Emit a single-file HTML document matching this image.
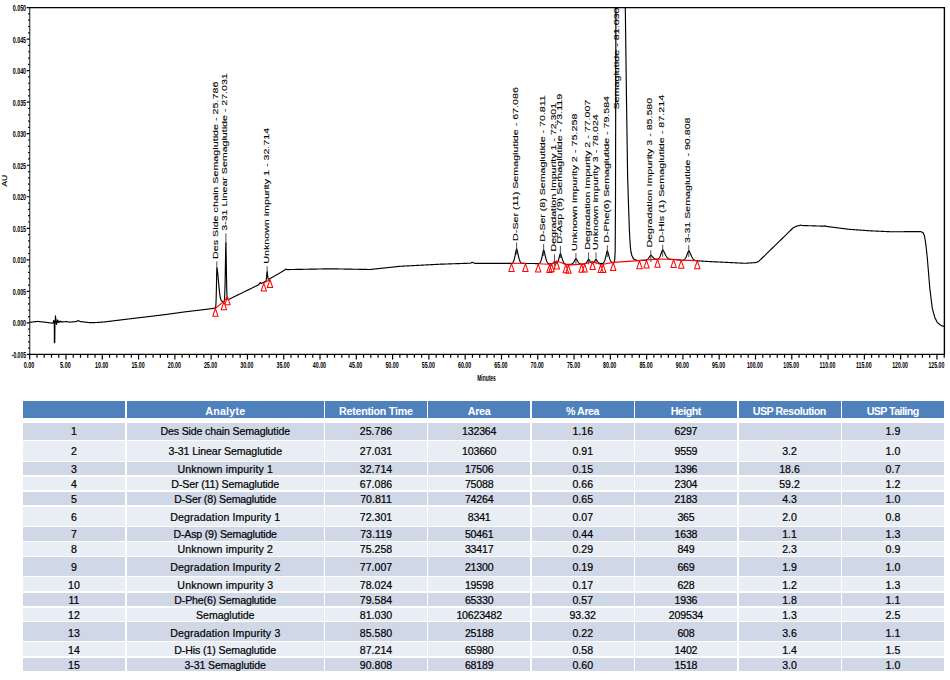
<!DOCTYPE html>
<html lang="en"><head><meta charset="utf-8"><title>Semaglutide impurity chromatogram</title>
<style>
html,body{margin:0;padding:0;background:#fff;}
body{width:950px;height:680px;position:relative;overflow:hidden;font-family:"Liberation Sans",Arial,sans-serif;}
svg.chrom{position:absolute;left:0;top:0;}
.tbl .c{position:absolute;text-align:center;font-size:10.6px;color:#000;white-space:nowrap;overflow:hidden;-webkit-text-stroke:0.2px #000}
.tbl .h{background:#4f81bd;color:#fff;font-weight:bold;font-size:10.7px;-webkit-text-stroke:0}
.tbl .a{background:#d0d8e8}
.tbl .b{background:#e9edf4}
</style></head><body>
<svg class="chrom" width="950" height="392" viewBox="0 0 950 392">
<defs><clipPath id="pc"><rect x="29" y="7" width="916" height="348"/></clipPath></defs>
<g stroke="#000" fill="none">
<path d="M29.75 354.4 V7.6" stroke-width="1.05" stroke="#222"/>
<path d="M29.2 7.6 H944.4 V354.4" stroke-width="1.4"/>
<path d="M29.4 354.4 H945.1" stroke-width="1.4"/>
<path d="M26.7 354.40H29.7M28.1 348.09H29.7M28.1 341.79H29.7M28.1 335.48H29.7M28.1 329.18H29.7M26.7 322.87H29.7M28.1 316.57H29.7M28.1 310.26H29.7M28.1 303.96H29.7M28.1 297.65H29.7M26.7 291.35H29.7M28.1 285.04H29.7M28.1 278.73H29.7M28.1 272.43H29.7M28.1 266.12H29.7M26.7 259.82H29.7M28.1 253.51H29.7M28.1 247.21H29.7M28.1 240.90H29.7M28.1 234.60H29.7M26.7 228.29H29.7M28.1 221.99H29.7M28.1 215.68H29.7M28.1 209.37H29.7M28.1 203.07H29.7M26.7 196.76H29.7M28.1 190.46H29.7M28.1 184.15H29.7M28.1 177.85H29.7M28.1 171.54H29.7M26.7 165.24H29.7M28.1 158.93H29.7M28.1 152.63H29.7M28.1 146.32H29.7M28.1 140.01H29.7M26.7 133.71H29.7M28.1 127.40H29.7M28.1 121.10H29.7M28.1 114.79H29.7M28.1 108.49H29.7M26.7 102.18H29.7M28.1 95.88H29.7M28.1 89.57H29.7M28.1 83.27H29.7M28.1 76.96H29.7M26.7 70.65H29.7M28.1 64.35H29.7M28.1 58.04H29.7M28.1 51.74H29.7M28.1 45.43H29.7M26.7 39.13H29.7M28.1 32.82H29.7M28.1 26.52H29.7M28.1 20.21H29.7M28.1 13.91H29.7M26.7 7.60H29.7" stroke-width="1.2"/>
<path d="M29.70 354.4V359.4M36.96 354.4V357.7M44.22 354.4V357.7M51.47 354.4V357.7M58.73 354.4V357.7M65.99 354.4V359.4M73.25 354.4V357.7M80.51 354.4V357.7M87.76 354.4V357.7M95.02 354.4V357.7M102.28 354.4V359.4M109.54 354.4V357.7M116.80 354.4V357.7M124.05 354.4V357.7M131.31 354.4V357.7M138.57 354.4V359.4M145.83 354.4V357.7M153.09 354.4V357.7M160.34 354.4V357.7M167.60 354.4V357.7M174.86 354.4V359.4M182.12 354.4V357.7M189.38 354.4V357.7M196.63 354.4V357.7M203.89 354.4V357.7M211.15 354.4V359.4M218.41 354.4V357.7M225.67 354.4V357.7M232.92 354.4V357.7M240.18 354.4V357.7M247.44 354.4V359.4M254.70 354.4V357.7M261.96 354.4V357.7M269.21 354.4V357.7M276.47 354.4V357.7M283.73 354.4V359.4M290.99 354.4V357.7M298.25 354.4V357.7M305.50 354.4V357.7M312.76 354.4V357.7M320.02 354.4V359.4M327.28 354.4V357.7M334.54 354.4V357.7M341.79 354.4V357.7M349.05 354.4V357.7M356.31 354.4V359.4M363.57 354.4V357.7M370.83 354.4V357.7M378.08 354.4V357.7M385.34 354.4V357.7M392.60 354.4V359.4M399.86 354.4V357.7M407.12 354.4V357.7M414.37 354.4V357.7M421.63 354.4V357.7M428.89 354.4V359.4M436.15 354.4V357.7M443.41 354.4V357.7M450.66 354.4V357.7M457.92 354.4V357.7M465.18 354.4V359.4M472.44 354.4V357.7M479.70 354.4V357.7M486.95 354.4V357.7M494.21 354.4V357.7M501.47 354.4V359.4M508.73 354.4V357.7M515.99 354.4V357.7M523.24 354.4V357.7M530.50 354.4V357.7M537.76 354.4V359.4M545.02 354.4V357.7M552.28 354.4V357.7M559.53 354.4V357.7M566.79 354.4V357.7M574.05 354.4V359.4M581.31 354.4V357.7M588.57 354.4V357.7M595.82 354.4V357.7M603.08 354.4V357.7M610.34 354.4V359.4M617.60 354.4V357.7M624.86 354.4V357.7M632.11 354.4V357.7M639.37 354.4V357.7M646.63 354.4V359.4M653.89 354.4V357.7M661.15 354.4V357.7M668.40 354.4V357.7M675.66 354.4V357.7M682.92 354.4V359.4M690.18 354.4V357.7M697.44 354.4V357.7M704.69 354.4V357.7M711.95 354.4V357.7M719.21 354.4V359.4M726.47 354.4V357.7M733.73 354.4V357.7M740.98 354.4V357.7M748.24 354.4V357.7M755.50 354.4V359.4M762.76 354.4V357.7M770.02 354.4V357.7M777.27 354.4V357.7M784.53 354.4V357.7M791.79 354.4V359.4M799.05 354.4V357.7M806.31 354.4V357.7M813.56 354.4V357.7M820.82 354.4V357.7M828.08 354.4V359.4M835.34 354.4V357.7M842.60 354.4V357.7M849.85 354.4V357.7M857.11 354.4V357.7M864.37 354.4V359.4M871.63 354.4V357.7M878.89 354.4V357.7M886.14 354.4V357.7M893.40 354.4V357.7M900.66 354.4V359.4M907.92 354.4V357.7M915.18 354.4V357.7M922.43 354.4V357.7M929.69 354.4V357.7M936.95 354.4V359.4M944.21 354.4V357.7" stroke-width="1.2"/>
</g>
<g font-family="Liberation Sans, Arial, sans-serif" font-size="9.9" font-weight="bold" fill="#000">
<text x="11.7" y="357.8" textLength="14.4" lengthAdjust="spacingAndGlyphs">-0.005</text>
<text x="12.7" y="326.3" textLength="13.4" lengthAdjust="spacingAndGlyphs">0.000</text>
<text x="12.7" y="294.7" textLength="13.4" lengthAdjust="spacingAndGlyphs">0.005</text>
<text x="12.7" y="263.2" textLength="13.4" lengthAdjust="spacingAndGlyphs">0.010</text>
<text x="12.7" y="231.7" textLength="13.4" lengthAdjust="spacingAndGlyphs">0.015</text>
<text x="12.7" y="200.2" textLength="13.4" lengthAdjust="spacingAndGlyphs">0.020</text>
<text x="12.7" y="168.6" textLength="13.4" lengthAdjust="spacingAndGlyphs">0.025</text>
<text x="12.7" y="137.1" textLength="13.4" lengthAdjust="spacingAndGlyphs">0.030</text>
<text x="12.7" y="105.6" textLength="13.4" lengthAdjust="spacingAndGlyphs">0.035</text>
<text x="12.7" y="74.1" textLength="13.4" lengthAdjust="spacingAndGlyphs">0.040</text>
<text x="12.7" y="42.5" textLength="13.4" lengthAdjust="spacingAndGlyphs">0.045</text>
<text x="12.7" y="11.0" textLength="13.4" lengthAdjust="spacingAndGlyphs">0.050</text>
<text x="23.8" y="367.8" textLength="10.6" lengthAdjust="spacingAndGlyphs">0.00</text>
<text x="60.1" y="367.8" textLength="10.6" lengthAdjust="spacingAndGlyphs">5.00</text>
<text x="95.1" y="367.8" textLength="13.2" lengthAdjust="spacingAndGlyphs">10.00</text>
<text x="131.4" y="367.8" textLength="13.2" lengthAdjust="spacingAndGlyphs">15.00</text>
<text x="167.7" y="367.8" textLength="13.2" lengthAdjust="spacingAndGlyphs">20.00</text>
<text x="203.9" y="367.8" textLength="13.2" lengthAdjust="spacingAndGlyphs">25.00</text>
<text x="240.2" y="367.8" textLength="13.2" lengthAdjust="spacingAndGlyphs">30.00</text>
<text x="276.5" y="367.8" textLength="13.2" lengthAdjust="spacingAndGlyphs">35.00</text>
<text x="312.8" y="367.8" textLength="13.2" lengthAdjust="spacingAndGlyphs">40.00</text>
<text x="349.1" y="367.8" textLength="13.2" lengthAdjust="spacingAndGlyphs">45.00</text>
<text x="385.4" y="367.8" textLength="13.2" lengthAdjust="spacingAndGlyphs">50.00</text>
<text x="421.7" y="367.8" textLength="13.2" lengthAdjust="spacingAndGlyphs">55.00</text>
<text x="458.0" y="367.8" textLength="13.2" lengthAdjust="spacingAndGlyphs">60.00</text>
<text x="494.3" y="367.8" textLength="13.2" lengthAdjust="spacingAndGlyphs">65.00</text>
<text x="530.6" y="367.8" textLength="13.2" lengthAdjust="spacingAndGlyphs">70.00</text>
<text x="566.9" y="367.8" textLength="13.2" lengthAdjust="spacingAndGlyphs">75.00</text>
<text x="603.1" y="367.8" textLength="13.2" lengthAdjust="spacingAndGlyphs">80.00</text>
<text x="639.4" y="367.8" textLength="13.2" lengthAdjust="spacingAndGlyphs">85.00</text>
<text x="675.7" y="367.8" textLength="13.2" lengthAdjust="spacingAndGlyphs">90.00</text>
<text x="712.0" y="367.8" textLength="13.2" lengthAdjust="spacingAndGlyphs">95.00</text>
<text x="747.0" y="367.8" textLength="15.8" lengthAdjust="spacingAndGlyphs">100.00</text>
<text x="783.3" y="367.8" textLength="15.8" lengthAdjust="spacingAndGlyphs">105.00</text>
<text x="819.6" y="367.8" textLength="15.8" lengthAdjust="spacingAndGlyphs">110.00</text>
<text x="855.9" y="367.8" textLength="15.8" lengthAdjust="spacingAndGlyphs">115.00</text>
<text x="892.2" y="367.8" textLength="15.8" lengthAdjust="spacingAndGlyphs">120.00</text>
<text x="928.5" y="367.8" textLength="15.8" lengthAdjust="spacingAndGlyphs">125.00</text>
<text x="477.2" y="380.8" font-size="8.6" textLength="18.6" lengthAdjust="spacingAndGlyphs">Minutes</text>
<text transform="translate(7.3 186.8) rotate(-90)" font-size="6.5" font-weight="normal" stroke="#000" stroke-width="0.12" textLength="12.1" lengthAdjust="spacingAndGlyphs">AU</text>
</g>
<g clip-path="url(#pc)" fill="none" stroke-linejoin="round">
<polyline points="29.70,322.30 29.95,322.27 30.20,322.24 30.45,322.21 30.70,322.19 30.95,322.16 31.20,322.13 31.45,322.10 31.70,322.07 31.95,322.04 32.20,322.02 32.45,321.99 32.70,321.96 32.95,321.93 33.20,321.90 33.45,321.87 33.70,321.84 33.95,321.82 34.20,321.79 34.45,321.76 34.70,321.73 34.95,321.70 35.20,321.67 35.45,321.64 35.70,321.62 35.95,321.59 36.20,321.56 36.45,321.53 36.70,321.50 36.95,321.47 37.20,321.45 37.45,321.42 37.70,321.41 37.95,321.44 38.20,321.46 38.45,321.49 38.70,321.52 38.95,321.55 39.20,321.57 39.45,321.60 39.70,321.63 39.95,321.65 40.20,321.68 40.45,321.71 40.70,321.74 40.95,321.76 41.20,321.79 41.45,321.82 41.70,321.84 41.95,321.87 42.20,321.90 42.45,321.92 42.70,321.95 42.95,321.98 43.20,322.01 43.45,322.03 43.70,322.06 43.95,322.09 44.20,322.11 44.45,322.14 44.70,322.17 44.95,322.19 45.20,322.23 45.45,322.26 45.70,322.29 45.95,322.32 46.20,322.36 46.45,322.39 46.70,322.42 46.95,322.46 47.20,322.49 47.45,322.52 47.70,322.56 47.95,322.59 48.20,322.62 48.45,322.65 48.70,322.69 48.95,322.72 49.20,322.75 49.45,322.79 49.70,322.82 49.95,322.85 50.20,322.88 50.45,322.92 50.70,322.95 50.95,322.98 51.20,323.02 51.45,323.05 51.70,323.08 51.95,323.11 52.20,323.15 52.45,323.18 52.70,323.18 52.95,323.11 53.20,322.90 53.60,320.60 54.00,322.60 54.30,321.00 54.40,342.60 54.75,342.60 54.90,326.00 55.50,315.90 56.00,321.00 56.60,324.50 57.50,319.90 58.20,322.40 58.90,321.00 59.60,322.20 60.40,321.20 61.20,322.00 61.70,321.80 61.95,321.84 62.20,321.88 62.45,321.89 62.70,321.87 62.95,321.85 63.20,321.83 63.45,321.81 63.70,321.79 63.95,321.77 64.20,321.75 64.45,321.73 64.70,321.71 64.95,321.69 65.20,321.66 65.45,321.64 65.70,321.62 65.95,321.60 66.20,321.62 66.45,321.66 66.70,321.69 66.95,321.72 67.20,321.75 67.45,321.78 67.70,321.81 67.95,321.84 68.20,321.88 68.45,321.91 68.70,321.94 68.95,321.97 69.20,322.00 69.45,322.03 69.70,322.06 69.95,322.09 70.20,322.09 70.45,322.07 70.70,322.05 70.95,322.03 71.20,322.01 71.45,321.99 71.70,321.97 71.95,321.95 72.20,321.94 72.45,321.92 72.70,321.90 72.95,321.88 73.20,321.86 73.45,321.84 73.70,321.82 73.95,321.80 74.20,321.78 74.45,321.75 74.70,321.72 74.95,321.69 75.20,321.66 75.45,321.63 75.70,321.60 75.95,321.57 76.20,321.54 76.45,321.51 76.70,321.39 76.95,321.26 77.20,321.13 77.45,321.00 77.70,320.86 77.95,320.73 78.20,320.60 78.45,320.73 78.70,320.85 78.95,320.98 79.20,321.10 79.45,321.23 79.70,321.35 79.95,321.48 80.20,321.52 80.45,321.56 80.70,321.59 80.95,321.62 81.20,321.65 81.45,321.68 81.70,321.71 81.95,321.74 82.20,321.77 82.45,321.81 82.70,321.84 82.95,321.87 83.20,321.90 83.45,321.93 83.70,321.96 83.95,321.99 84.20,322.02 84.45,322.05 84.70,322.08 84.95,322.10 85.20,322.13 85.45,322.16 85.70,322.18 85.95,322.21 86.20,322.24 86.45,322.26 86.70,322.29 86.95,322.32 87.20,322.34 87.45,322.37 87.70,322.40 87.95,322.43 88.20,322.45 88.45,322.48 88.70,322.51 88.95,322.53 89.20,322.56 89.45,322.59 89.70,322.61 89.95,322.64 90.20,322.67 90.45,322.69 90.70,322.69 90.95,322.69 91.20,322.68 91.45,322.67 91.70,322.66 91.95,322.66 92.20,322.65 92.45,322.64 92.70,322.63 92.95,322.62 93.20,322.62 93.45,322.61 93.70,322.60 93.95,322.59 94.20,322.59 94.45,322.58 94.70,322.57 94.95,322.56 95.20,322.56 95.45,322.55 95.70,322.54 95.95,322.53 96.20,322.52 96.45,322.52 96.70,322.51 96.95,322.50 97.20,322.48 97.45,322.46 97.70,322.45 97.95,322.43 98.20,322.41 98.45,322.39 98.70,322.37 98.95,322.35 99.20,322.33 99.45,322.31 99.70,322.29 99.95,322.27 100.20,322.25 100.45,322.23 100.70,322.21 100.95,322.19 101.20,322.17 101.45,322.15 101.70,322.13 101.95,322.11 102.20,322.09 102.45,322.08 102.70,322.06 102.95,322.04 103.20,322.02 103.45,322.00 103.70,321.98 103.95,321.96 104.20,321.94 104.45,321.92 104.70,321.90 104.95,321.87 105.20,321.84 105.45,321.81 105.70,321.78 105.95,321.75 106.20,321.72 106.45,321.69 106.70,321.65 106.95,321.62 107.20,321.59 107.45,321.56 107.70,321.53 107.95,321.50 108.20,321.47 108.45,321.44 108.70,321.41 108.95,321.38 109.20,321.35 109.45,321.32 109.70,321.29 109.95,321.26 110.20,321.23 110.45,321.19 110.70,321.16 110.95,321.13 111.20,321.10 111.45,321.07 111.70,321.04 111.95,321.01 112.20,320.98 112.45,320.95 112.70,320.92 112.95,320.89 113.20,320.86 113.45,320.83 113.70,320.80 113.95,320.77 114.20,320.73 114.45,320.70 114.70,320.67 114.95,320.64 115.20,320.61 115.45,320.58 115.70,320.55 115.95,320.52 116.20,320.49 116.45,320.46 116.70,320.43 116.95,320.40 117.20,320.37 117.45,320.34 117.70,320.31 117.95,320.27 118.20,320.24 118.45,320.21 118.70,320.18 118.95,320.15 119.20,320.12 119.45,320.09 119.70,320.06 119.95,320.03 120.20,320.00 120.45,319.97 120.70,319.94 120.95,319.91 121.20,319.88 121.45,319.85 121.70,319.81 121.95,319.78 122.20,319.75 122.45,319.72 122.70,319.69 122.95,319.66 123.20,319.63 123.45,319.60 123.70,319.57 123.95,319.54 124.20,319.51 124.45,319.48 124.70,319.45 124.95,319.42 125.20,319.39 125.45,319.35 125.70,319.32 125.95,319.29 126.20,319.26 126.45,319.23 126.70,319.20 126.95,319.17 127.20,319.14 127.45,319.11 127.70,319.08 127.95,319.05 128.20,319.02 128.45,318.99 128.70,318.96 128.95,318.93 129.20,318.89 129.45,318.86 129.70,318.83 129.95,318.80 130.20,318.77 130.45,318.74 130.70,318.71 130.95,318.68 131.20,318.65 131.45,318.62 131.70,318.59 131.95,318.56 132.20,318.53 132.45,318.50 132.70,318.47 132.95,318.44 133.20,318.41 133.45,318.38 133.70,318.35 133.95,318.32 134.20,318.29 134.45,318.27 134.70,318.24 134.95,318.21 135.20,318.18 135.45,318.15 135.70,318.12 135.95,318.09 136.20,318.06 136.45,318.03 136.70,318.00 136.95,317.97 137.20,317.94 137.45,317.91 137.70,317.88 137.95,317.86 138.20,317.83 138.45,317.80 138.70,317.77 138.95,317.74 139.20,317.71 139.45,317.68 139.70,317.65 139.95,317.62 140.20,317.59 140.45,317.56 140.70,317.53 140.95,317.50 141.20,317.47 141.45,317.44 141.70,317.42 141.95,317.39 142.20,317.36 142.45,317.33 142.70,317.30 142.95,317.27 143.20,317.24 143.45,317.21 143.70,317.18 143.95,317.15 144.20,317.12 144.45,317.09 144.70,317.06 144.95,317.03 145.20,317.00 145.45,316.98 145.70,316.95 145.95,316.92 146.20,316.89 146.45,316.86 146.70,316.83 146.95,316.80 147.20,316.77 147.45,316.74 147.70,316.71 147.95,316.68 148.20,316.65 148.45,316.62 148.70,316.59 148.95,316.56 149.20,316.54 149.45,316.51 149.70,316.48 149.95,316.44 150.20,316.41 150.45,316.38 150.70,316.35 150.95,316.32 151.20,316.29 151.45,316.26 151.70,316.23 151.95,316.20 152.20,316.17 152.45,316.14 152.70,316.11 152.95,316.08 153.20,316.05 153.45,316.01 153.70,315.98 153.95,315.95 154.20,315.92 154.45,315.89 154.70,315.86 154.95,315.83 155.20,315.80 155.45,315.77 155.70,315.74 155.95,315.71 156.20,315.68 156.45,315.65 156.70,315.62 156.95,315.58 157.20,315.55 157.45,315.52 157.70,315.49 157.95,315.46 158.20,315.43 158.45,315.40 158.70,315.37 158.95,315.34 159.20,315.31 159.45,315.28 159.70,315.25 159.95,315.22 160.20,315.18 160.45,315.15 160.70,315.12 160.95,315.09 161.20,315.06 161.45,315.03 161.70,315.00 161.95,314.97 162.20,314.94 162.45,314.91 162.70,314.88 162.95,314.85 163.20,314.82 163.45,314.79 163.70,314.75 163.95,314.72 164.20,314.69 164.45,314.66 164.70,314.63 164.95,314.60 165.20,314.57 165.45,314.54 165.70,314.51 165.95,314.48 166.20,314.45 166.45,314.42 166.70,314.39 166.95,314.36 167.20,314.32 167.45,314.29 167.70,314.26 167.95,314.22 168.20,314.19 168.45,314.15 168.70,314.12 168.95,314.08 169.20,314.05 169.45,314.01 169.70,313.98 169.95,313.94 170.20,313.91 170.45,313.87 170.70,313.84 170.95,313.80 171.20,313.77 171.45,313.73 171.70,313.70 171.95,313.66 172.20,313.63 172.45,313.59 172.70,313.56 172.95,313.52 173.20,313.49 173.45,313.46 173.70,313.42 173.95,313.39 174.20,313.35 174.45,313.32 174.70,313.28 174.95,313.25 175.20,313.21 175.45,313.18 175.70,313.14 175.95,313.11 176.20,313.07 176.45,313.04 176.70,313.00 176.95,312.97 177.20,312.93 177.45,312.90 177.70,312.86 177.95,312.83 178.20,312.79 178.45,312.76 178.70,312.72 178.95,312.69 179.20,312.65 179.45,312.62 179.70,312.58 179.95,312.55 180.20,312.51 180.45,312.48 180.70,312.44 180.95,312.41 181.20,312.37 181.45,312.34 181.70,312.30 181.95,312.27 182.20,312.23 182.45,312.20 182.70,312.16 182.95,312.13 183.20,312.09 183.45,312.06 183.70,312.02 183.95,311.99 184.20,311.95 184.45,311.92 184.70,311.88 184.95,311.85 185.20,311.81 185.45,311.78 185.70,311.75 185.95,311.72 186.20,311.69 186.45,311.67 186.70,311.64 186.95,311.61 187.20,311.58 187.45,311.55 187.70,311.52 187.95,311.49 188.20,311.46 188.45,311.43 188.70,311.40 188.95,311.37 189.20,311.34 189.45,311.31 189.70,311.28 189.95,311.25 190.20,311.23 190.45,311.20 190.70,311.17 190.95,311.14 191.20,311.11 191.45,311.08 191.70,311.05 191.95,311.02 192.20,310.99 192.45,310.96 192.70,310.93 192.95,310.90 193.20,310.87 193.45,310.84 193.70,310.81 193.95,310.79 194.20,310.76 194.45,310.73 194.70,310.70 194.95,310.67 195.20,310.64 195.45,310.61 195.70,310.58 195.95,310.55 196.20,310.52 196.45,310.49 196.70,310.46 196.95,310.43 197.20,310.40 197.45,310.37 197.70,310.35 197.95,310.32 198.20,310.29 198.45,310.26 198.70,310.23 198.95,310.20 199.20,310.17 199.45,310.14 199.70,310.11 199.95,310.08 200.20,310.05 200.45,310.02 200.70,309.99 200.95,309.96 201.20,309.93 201.45,309.91 201.70,309.88 201.95,309.85 202.20,309.82 202.45,309.79 202.70,309.76 202.95,309.73 203.20,309.70 203.45,309.67 203.70,309.64 203.95,309.61 204.20,309.57 204.45,309.54 204.70,309.51 204.95,309.48 205.20,309.45 205.45,309.42 205.70,309.39 205.95,309.36 206.20,309.32 206.45,309.29 206.70,309.26 206.95,309.23 207.20,309.20 207.45,309.17 207.70,309.14 207.95,309.11 208.20,309.07 208.45,309.04 208.70,309.01 208.95,308.98 209.20,308.95 209.45,308.92 209.70,308.89 209.95,308.86 210.20,308.82 210.45,308.79 210.70,308.76 210.95,308.73 211.20,308.70 211.45,308.67 211.70,308.64 211.95,308.61 212.20,308.56 212.45,308.52 212.70,308.47 212.95,308.43 213.20,308.38 213.45,308.34 213.70,308.29 213.95,308.25 214.20,308.20 214.45,308.15 214.70,308.11 214.95,308.06 215.20,308.02 215.45,307.89 215.70,307.12 215.95,303.57 216.20,297.01 216.45,285.78 216.70,272.86 216.95,267.79 217.20,269.15 217.45,270.95 217.70,273.12 217.95,275.60 218.20,278.29 218.45,281.09 218.70,283.89 218.95,286.60 219.20,289.15 219.45,291.47 219.70,293.52 219.95,295.30 220.20,296.79 220.45,298.01 220.70,298.98 220.95,299.73 221.20,300.30 221.45,300.71 221.70,301.00 221.95,301.19 222.20,301.31 222.45,301.43 222.70,301.59 222.95,301.69 223.20,301.74 223.45,301.74 223.70,301.72 223.95,301.67 224.20,301.50 224.45,300.09 224.70,295.53 224.95,288.75 225.20,277.71 225.45,263.17 225.70,248.45 225.95,242.71 226.20,257.50 226.45,274.37 226.70,287.36 226.95,294.83 227.20,299.18 227.45,300.04 227.70,299.91 227.95,299.78 228.20,299.65 228.45,299.53 228.70,299.40 228.95,299.28 229.20,299.16 229.45,299.04 229.70,298.91 229.95,298.79 230.20,298.67 230.45,298.55 230.70,298.43 230.95,298.30 231.20,298.18 231.45,298.06 231.70,297.94 231.95,297.81 232.20,297.69 232.45,297.57 232.70,297.45 232.95,297.33 233.20,297.20 233.45,297.08 233.70,296.96 233.95,296.84 234.20,296.72 234.45,296.59 234.70,296.47 234.95,296.35 235.20,296.23 235.45,296.11 235.70,295.98 235.95,295.86 236.20,295.74 236.45,295.62 236.70,295.49 236.95,295.37 237.20,295.25 237.45,295.13 237.70,295.01 237.95,294.88 238.20,294.76 238.45,294.64 238.70,294.52 238.95,294.40 239.20,294.27 239.45,294.15 239.70,294.03 239.95,293.91 240.20,293.79 240.45,293.66 240.70,293.54 240.95,293.42 241.20,293.30 241.45,293.17 241.70,293.05 241.95,292.93 242.20,292.81 242.45,292.69 242.70,292.56 242.95,292.44 243.20,292.32 243.45,292.20 243.70,292.08 243.95,291.95 244.20,291.83 244.45,291.71 244.70,291.59 244.95,291.47 245.20,291.34 245.45,291.22 245.70,291.10 245.95,290.98 246.20,290.85 246.45,290.73 246.70,290.61 246.95,290.49 247.20,290.37 247.45,290.24 247.70,290.12 247.95,290.00 248.20,289.88 248.45,289.76 248.70,289.63 248.95,289.51 249.20,289.39 249.45,289.27 249.70,289.14 249.95,289.02 250.20,288.90 250.45,288.78 250.70,288.66 250.95,288.53 251.20,288.41 251.45,288.29 251.70,288.17 251.95,288.05 252.20,287.92 252.45,287.80 252.70,287.68 252.95,287.56 253.20,287.44 253.45,287.31 253.70,287.19 253.95,287.07 254.20,286.95 254.45,286.82 254.70,286.70 254.95,286.58 255.20,286.46 255.45,286.34 255.70,286.21 255.95,286.09 256.20,285.97 256.45,285.85 256.70,285.73 256.95,285.60 257.20,285.48 257.45,285.36 257.70,285.24 257.95,285.12 258.20,284.99 258.45,284.87 258.70,284.75 258.95,284.46 259.20,284.07 259.45,283.68 259.70,283.29 259.95,282.89 260.20,282.50 260.45,282.75 260.70,283.00 260.95,283.25 261.20,283.50 261.45,283.51 261.70,283.37 261.95,283.23 262.20,283.08 262.45,282.94 262.70,282.79 262.95,282.65 263.20,282.51 263.45,282.36 263.70,282.22 263.95,282.08 264.20,281.93 264.45,281.79 264.70,281.64 264.95,281.50 265.20,281.36 265.45,281.21 265.70,281.07 265.95,280.72 266.20,279.78 266.45,278.23 266.70,275.77 266.95,272.96 267.20,271.69 267.45,273.63 267.70,275.90 267.95,277.68 268.20,278.70 268.45,279.27 268.70,279.33 268.95,279.20 269.20,279.06 269.45,278.91 269.70,278.77 269.95,278.63 270.20,278.48 270.45,278.34 270.70,278.19 270.95,278.05 271.20,277.91 271.45,277.76 271.70,277.62 271.95,277.48 272.20,277.33 272.45,277.19 272.70,277.04 272.95,276.90 273.20,276.76 273.45,276.61 273.70,276.47 273.95,276.32 274.20,276.18 274.45,276.04 274.70,275.89 274.95,275.75 275.20,275.61 275.45,275.46 275.70,275.32 275.95,275.17 276.20,275.03 276.45,274.89 276.70,274.74 276.95,274.60 277.20,274.46 277.45,274.31 277.70,274.17 277.95,274.02 278.20,273.88 278.45,273.74 278.70,273.59 278.95,273.45 279.20,273.31 279.45,273.16 279.70,273.02 279.95,272.87 280.20,272.73 280.45,272.59 280.70,272.44 280.95,272.30 281.20,272.16 281.45,272.01 281.70,271.87 281.95,271.72 282.20,271.58 282.45,271.44 282.70,271.29 282.95,271.15 283.20,271.01 283.45,270.86 283.70,270.72 283.95,270.57 284.20,270.43 284.45,270.29 284.70,270.07 284.95,269.73 285.20,269.40 285.45,269.07 285.70,269.08 285.95,269.18 286.20,269.28 286.45,269.38 286.70,269.48 286.95,269.58 287.20,269.60 287.45,269.59 287.70,269.59 287.95,269.58 288.20,269.58 288.45,269.57 288.70,269.57 288.95,269.56 289.20,269.56 289.45,269.55 289.70,269.55 289.95,269.55 290.20,269.54 290.45,269.54 290.70,269.53 290.95,269.53 291.20,269.52 291.45,269.52 291.70,269.51 291.95,269.51 292.20,269.50 292.45,269.50 292.70,269.49 292.95,269.49 293.20,269.48 293.45,269.48 293.70,269.48 293.95,269.47 294.20,269.47 294.45,269.46 294.70,269.46 294.95,269.45 295.20,269.45 295.45,269.44 295.70,269.44 295.95,269.43 296.20,269.43 296.45,269.42 296.70,269.42 296.95,269.41 297.20,269.41 297.45,269.41 297.70,269.40 297.95,269.40 298.20,269.39 298.45,269.39 298.70,269.38 298.95,269.38 299.20,269.37 299.45,269.37 299.70,269.36 299.95,269.36 300.20,269.35 300.45,269.35 300.70,269.35 300.95,269.34 301.20,269.34 301.45,269.33 301.70,269.33 301.95,269.32 302.20,269.32 302.45,269.31 302.70,269.31 302.95,269.30 303.20,269.30 303.45,269.29 303.70,269.29 303.95,269.28 304.20,269.28 304.45,269.28 304.70,269.27 304.95,269.27 305.20,269.26 305.45,269.26 305.70,269.25 305.95,269.25 306.20,269.24 306.45,269.24 306.70,269.23 306.95,269.23 307.20,269.22 307.45,269.22 307.70,269.21 307.95,269.21 308.20,269.21 308.45,269.20 308.70,269.20 308.95,269.19 309.20,269.19 309.45,269.18 309.70,269.18 309.95,269.17 310.20,269.17 310.45,269.16 310.70,269.16 310.95,269.15 311.20,269.15 311.45,269.15 311.70,269.14 311.95,269.14 312.20,269.13 312.45,269.13 312.70,269.12 312.95,269.12 313.20,269.11 313.45,269.11 313.70,269.10 313.95,269.10 314.20,269.09 314.45,269.09 314.70,269.08 314.95,269.08 315.20,269.08 315.45,269.07 315.70,269.07 315.95,269.06 316.20,269.06 316.45,269.05 316.70,269.05 316.95,269.04 317.20,269.04 317.45,269.03 317.70,269.03 317.95,269.02 318.20,269.02 318.45,269.01 318.70,269.01 318.95,269.01 319.20,269.00 319.45,269.00 319.70,268.99 319.95,268.99 320.20,268.98 320.45,268.98 320.70,268.97 320.95,268.97 321.20,268.96 321.45,268.96 321.70,268.95 321.95,268.95 322.20,268.95 322.45,268.94 322.70,268.94 322.95,268.93 323.20,268.93 323.45,268.92 323.70,268.92 323.95,268.91 324.20,268.91 324.45,268.90 324.70,268.90 324.95,268.89 325.20,268.89 325.45,268.88 325.70,268.88 325.95,268.88 326.20,268.87 326.45,268.87 326.70,268.86 326.95,268.86 327.20,268.85 327.45,268.85 327.70,268.84 327.95,268.84 328.20,268.83 328.45,268.83 328.70,268.82 328.95,268.82 329.20,268.81 329.45,268.81 329.70,268.81 329.95,268.80 330.20,268.80 330.45,268.81 330.70,268.81 330.95,268.82 331.20,268.82 331.45,268.83 331.70,268.83 331.95,268.83 332.20,268.84 332.45,268.84 332.70,268.85 332.95,268.85 333.20,268.86 333.45,268.86 333.70,268.86 333.95,268.87 334.20,268.87 334.45,268.88 334.70,268.88 334.95,268.89 335.20,268.89 335.45,268.90 335.70,268.90 335.95,268.90 336.20,268.91 336.45,268.91 336.70,268.92 336.95,268.92 337.20,268.93 337.45,268.93 337.70,268.93 337.95,268.94 338.20,268.94 338.45,268.95 338.70,268.95 338.95,268.96 339.20,268.96 339.45,268.97 339.70,268.97 339.95,268.97 340.20,268.98 340.45,268.98 340.70,268.99 340.95,268.99 341.20,269.00 341.45,269.00 341.70,269.00 341.95,269.01 342.20,269.01 342.45,269.02 342.70,269.02 342.95,269.03 343.20,269.03 343.45,269.04 343.70,269.04 343.95,269.04 344.20,269.05 344.45,269.05 344.70,269.06 344.95,269.06 345.20,269.07 345.45,269.07 345.70,269.07 345.95,269.08 346.20,269.08 346.45,269.09 346.70,269.09 346.95,269.10 347.20,269.10 347.45,269.11 347.70,269.11 347.95,269.11 348.20,269.12 348.45,269.12 348.70,269.13 348.95,269.13 349.20,269.14 349.45,269.14 349.70,269.14 349.95,269.15 350.20,269.15 350.45,269.16 350.70,269.16 350.95,269.17 351.20,269.17 351.45,269.18 351.70,269.18 351.95,269.18 352.20,269.19 352.45,269.19 352.70,269.20 352.95,269.20 353.20,269.21 353.45,269.21 353.70,269.21 353.95,269.22 354.20,269.22 354.45,269.23 354.70,269.23 354.95,269.24 355.20,269.24 355.45,269.25 355.70,269.25 355.95,269.25 356.20,269.26 356.45,269.26 356.70,269.27 356.95,269.27 357.20,269.28 357.45,269.28 357.70,269.28 357.95,269.29 358.20,269.29 358.45,269.30 358.70,269.30 358.95,269.31 359.20,269.31 359.45,269.32 359.70,269.32 359.95,269.32 360.20,269.33 360.45,269.33 360.70,269.34 360.95,269.34 361.20,269.35 361.45,269.35 361.70,269.35 361.95,269.36 362.20,269.36 362.45,269.37 362.70,269.37 362.95,269.38 363.20,269.38 363.45,269.39 363.70,269.39 363.95,269.39 364.20,269.40 364.45,269.40 364.70,269.41 364.95,269.41 365.20,269.42 365.45,269.42 365.70,269.42 365.95,269.43 366.20,269.43 366.45,269.44 366.70,269.44 366.95,269.45 367.20,269.45 367.45,269.46 367.70,269.46 367.95,269.46 368.20,269.47 368.45,269.47 368.70,269.48 368.95,269.48 369.20,269.49 369.45,269.49 369.70,269.49 369.95,269.50 370.20,269.48 370.45,269.45 370.70,269.43 370.95,269.40 371.20,269.37 371.45,269.35 371.70,269.32 371.95,269.29 372.20,269.27 372.45,269.24 372.70,269.21 372.95,269.19 373.20,269.16 373.45,269.13 373.70,269.11 373.95,269.08 374.20,269.05 374.45,269.03 374.70,269.00 374.95,268.97 375.20,268.95 375.45,268.92 375.70,268.89 375.95,268.87 376.20,268.84 376.45,268.81 376.70,268.79 376.95,268.76 377.20,268.73 377.45,268.71 377.70,268.68 377.95,268.65 378.20,268.63 378.45,268.60 378.70,268.57 378.95,268.55 379.20,268.52 379.45,268.49 379.70,268.47 379.95,268.44 380.20,268.41 380.45,268.39 380.70,268.36 380.95,268.33 381.20,268.31 381.45,268.28 381.70,268.25 381.95,268.23 382.20,268.20 382.45,268.17 382.70,268.15 382.95,268.12 383.20,268.09 383.45,268.07 383.70,268.04 383.95,268.01 384.20,267.99 384.45,267.96 384.70,267.93 384.95,267.91 385.20,267.88 385.45,267.85 385.70,267.83 385.95,267.80 386.20,267.77 386.45,267.75 386.70,267.72 386.95,267.69 387.20,267.67 387.45,267.64 387.70,267.61 387.95,267.59 388.20,267.56 388.45,267.53 388.70,267.51 388.95,267.48 389.20,267.45 389.45,267.43 389.70,267.40 389.95,267.37 390.20,267.35 390.45,267.32 390.70,267.29 390.95,267.27 391.20,267.24 391.45,267.21 391.70,267.19 391.95,267.16 392.20,267.13 392.45,267.11 392.70,267.08 392.95,267.05 393.20,267.03 393.45,267.00 393.70,266.97 393.95,266.95 394.20,266.92 394.45,266.89 394.70,266.87 394.95,266.84 395.20,266.81 395.45,266.79 395.70,266.76 395.95,266.73 396.20,266.71 396.45,266.68 396.70,266.65 396.95,266.63 397.20,266.60 397.45,266.57 397.70,266.55 397.95,266.52 398.20,266.49 398.45,266.47 398.70,266.44 398.95,266.41 399.20,266.39 399.45,266.36 399.70,266.33 399.95,266.31 400.20,266.29 400.45,266.28 400.70,266.26 400.95,266.25 401.20,266.24 401.45,266.22 401.70,266.21 401.95,266.20 402.20,266.18 402.45,266.17 402.70,266.16 402.95,266.15 403.20,266.13 403.45,266.12 403.70,266.11 403.95,266.09 404.20,266.08 404.45,266.07 404.70,266.05 404.95,266.04 405.20,266.03 405.45,266.01 405.70,266.00 405.95,265.99 406.20,265.97 406.45,265.96 406.70,265.95 406.95,265.94 407.20,265.92 407.45,265.91 407.70,265.90 407.95,265.88 408.20,265.87 408.45,265.86 408.70,265.84 408.95,265.83 409.20,265.82 409.45,265.80 409.70,265.79 409.95,265.78 410.20,265.76 410.45,265.75 410.70,265.74 410.95,265.73 411.20,265.71 411.45,265.70 411.70,265.69 411.95,265.67 412.20,265.66 412.45,265.65 412.70,265.63 412.95,265.62 413.20,265.61 413.45,265.59 413.70,265.58 413.95,265.57 414.20,265.55 414.45,265.54 414.70,265.53 414.95,265.52 415.20,265.50 415.45,265.49 415.70,265.48 415.95,265.46 416.20,265.45 416.45,265.44 416.70,265.42 416.95,265.41 417.20,265.40 417.45,265.38 417.70,265.37 417.95,265.36 418.20,265.34 418.45,265.33 418.70,265.32 418.95,265.31 419.20,265.29 419.45,265.28 419.70,265.27 419.95,265.25 420.20,265.24 420.45,265.23 420.70,265.21 420.95,265.20 421.20,265.19 421.45,265.17 421.70,265.16 421.95,265.15 422.20,265.13 422.45,265.12 422.70,265.11 422.95,265.10 423.20,265.08 423.45,265.07 423.70,265.06 423.95,265.04 424.20,265.03 424.45,265.02 424.70,265.00 424.95,264.99 425.20,264.98 425.45,264.96 425.70,264.95 425.95,264.94 426.20,264.92 426.45,264.91 426.70,264.90 426.95,264.89 427.20,264.87 427.45,264.86 427.70,264.85 427.95,264.83 428.20,264.82 428.45,264.81 428.70,264.79 428.95,264.78 429.20,264.77 429.45,264.75 429.70,264.74 429.95,264.73 430.20,264.71 430.45,264.70 430.70,264.69 430.95,264.68 431.20,264.66 431.45,264.65 431.70,264.64 431.95,264.62 432.20,264.61 432.45,264.60 432.70,264.58 432.95,264.57 433.20,264.56 433.45,264.54 433.70,264.53 433.95,264.52 434.20,264.50 434.45,264.49 434.70,264.48 434.95,264.47 435.20,264.45 435.45,264.44 435.70,264.43 435.95,264.41 436.20,264.40 436.45,264.39 436.70,264.37 436.95,264.36 437.20,264.35 437.45,264.33 437.70,264.32 437.95,264.31 438.20,264.29 438.45,264.28 438.70,264.27 438.95,264.26 439.20,264.24 439.45,264.23 439.70,264.22 439.95,264.20 440.20,264.19 440.45,264.19 440.70,264.18 440.95,264.17 441.20,264.16 441.45,264.15 441.70,264.14 441.95,264.14 442.20,264.13 442.45,264.12 442.70,264.11 442.95,264.10 443.20,264.10 443.45,264.09 443.70,264.08 443.95,264.07 444.20,264.06 444.45,264.05 444.70,264.05 444.95,264.04 445.20,264.03 445.45,264.02 445.70,264.01 445.95,264.00 446.20,264.00 446.45,263.99 446.70,263.98 446.95,263.97 447.20,263.96 447.45,263.96 447.70,263.95 447.95,263.94 448.20,263.93 448.45,263.92 448.70,263.91 448.95,263.91 449.20,263.90 449.45,263.89 449.70,263.88 449.95,263.87 450.20,263.87 450.45,263.86 450.70,263.85 450.95,263.84 451.20,263.83 451.45,263.82 451.70,263.82 451.95,263.81 452.20,263.80 452.45,263.79 452.70,263.78 452.95,263.78 453.20,263.77 453.45,263.76 453.70,263.75 453.95,263.74 454.20,263.73 454.45,263.73 454.70,263.72 454.95,263.71 455.20,263.70 455.45,263.69 455.70,263.69 455.95,263.68 456.20,263.67 456.45,263.66 456.70,263.65 456.95,263.64 457.20,263.64 457.45,263.63 457.70,263.62 457.95,263.61 458.20,263.60 458.45,263.60 458.70,263.59 458.95,263.58 459.20,263.57 459.45,263.56 459.70,263.55 459.95,263.55 460.20,263.54 460.45,263.53 460.70,263.52 460.95,263.51 461.20,263.50 461.45,263.50 461.70,263.49 461.95,263.48 462.20,263.47 462.45,263.46 462.70,263.46 462.95,263.45 463.20,263.44 463.45,263.43 463.70,263.42 463.95,263.41 464.20,263.41 464.45,263.40 464.70,263.39 464.95,263.38 465.20,263.37 465.45,263.37 465.70,263.36 465.95,263.35 466.20,263.34 466.45,263.33 466.70,263.32 466.95,263.32 467.20,263.31 467.45,263.30 467.70,263.29 467.95,263.28 468.20,263.28 468.45,263.27 468.70,263.26 468.95,263.25 469.20,263.24 469.45,263.23 469.70,263.23 469.95,263.22 470.20,263.21 470.45,263.20 470.70,263.09 470.95,262.95 471.20,262.81 471.45,262.67 471.70,262.53 471.95,262.39 472.20,262.26 472.45,262.27 472.70,262.40 472.95,262.52 473.20,262.65 473.45,262.77 473.70,262.90 473.95,263.02 474.20,263.15 474.45,263.27 474.70,263.30 474.95,263.30 475.20,263.30 475.45,263.30 475.70,263.30 475.95,263.30 476.20,263.30 476.45,263.30 476.70,263.30 476.95,263.30 477.20,263.30 477.45,263.30 477.70,263.30 477.95,263.30 478.20,263.30 478.45,263.30 478.70,263.30 478.95,263.30 479.20,263.30 479.45,263.30 479.70,263.30 479.95,263.30 480.20,263.30 480.45,263.30 480.70,263.30 480.95,263.30 481.20,263.30 481.45,263.30 481.70,263.30 481.95,263.30 482.20,263.30 482.45,263.30 482.70,263.30 482.95,263.30 483.20,263.30 483.45,263.30 483.70,263.30 483.95,263.30 484.20,263.30 484.45,263.30 484.70,263.30 484.95,263.30 485.20,263.30 485.45,263.30 485.70,263.30 485.95,263.30 486.20,263.30 486.45,263.30 486.70,263.30 486.95,263.30 487.20,263.30 487.45,263.30 487.70,263.30 487.95,263.30 488.20,263.30 488.45,263.30 488.70,263.30 488.95,263.30 489.20,263.30 489.45,263.30 489.70,263.30 489.95,263.30 490.20,263.30 490.45,263.30 490.70,263.30 490.95,263.30 491.20,263.30 491.45,263.30 491.70,263.30 491.95,263.30 492.20,263.30 492.45,263.30 492.70,263.30 492.95,263.30 493.20,263.30 493.45,263.30 493.70,263.30 493.95,263.30 494.20,263.30 494.45,263.30 494.70,263.30 494.95,263.30 495.20,263.30 495.45,263.30 495.70,263.30 495.95,263.30 496.20,263.30 496.45,263.30 496.70,263.30 496.95,263.30 497.20,263.30 497.45,263.30 497.70,263.30 497.95,263.30 498.20,263.30 498.45,263.30 498.70,263.30 498.95,263.30 499.20,263.30 499.45,263.30 499.70,263.30 499.95,263.30 500.20,263.30 500.45,263.30 500.70,263.30 500.95,263.30 501.20,263.30 501.45,263.30 501.70,263.30 501.95,263.30 502.20,263.30 502.45,263.30 502.70,263.30 502.95,263.30 503.20,263.30 503.45,263.30 503.70,263.30 503.95,263.30 504.20,263.30 504.45,263.30 504.70,263.30 504.95,263.30 505.20,263.30 505.45,263.30 505.70,263.30 505.95,263.30 506.20,263.30 506.45,263.30 506.70,263.30 506.95,263.30 507.20,263.30 507.45,263.30 507.70,263.30 507.95,263.30 508.20,263.30 508.45,263.30 508.70,263.30 508.95,263.30 509.20,263.30 509.45,263.30 509.70,263.30 509.95,263.30 510.20,263.30 510.45,263.30 510.70,263.31 510.95,263.31 511.20,263.31 511.45,263.31 511.70,263.31 511.95,263.26 512.20,263.18 512.45,263.04 512.70,262.82 512.95,262.48 513.20,261.98 513.45,261.54 513.70,260.99 513.95,260.31 514.20,259.49 514.45,258.54 514.70,257.47 514.95,256.28 515.20,255.01 515.45,253.70 515.70,252.40 515.95,251.15 516.20,250.04 516.45,249.13 516.70,248.92 516.95,249.62 517.20,250.53 517.45,251.58 517.70,252.70 517.95,253.86 518.20,255.03 518.45,256.16 518.70,257.23 518.95,258.22 519.20,259.12 519.45,259.91 519.70,260.59 519.95,261.17 520.20,261.65 520.45,262.04 520.70,262.50 520.95,262.83 521.20,263.06 521.45,263.21 521.70,263.31 521.95,263.38 522.20,263.42 522.45,263.42 522.70,263.43 522.95,263.43 523.20,263.43 523.45,263.43 523.70,263.44 523.95,263.44 524.20,263.44 524.45,263.44 524.70,263.45 524.95,263.45 525.20,263.45 525.45,263.45 525.70,263.46 525.95,263.46 526.20,263.46 526.45,263.46 526.70,263.47 526.95,263.47 527.20,263.47 527.45,263.47 527.70,263.48 527.95,263.48 528.20,263.48 528.45,263.48 528.70,263.49 528.95,263.49 529.20,263.49 529.45,263.49 529.70,263.50 529.95,263.50 530.20,263.50 530.45,263.50 530.70,263.51 530.95,263.51 531.20,263.51 531.45,263.51 531.70,263.52 531.95,263.52 532.20,263.52 532.45,263.52 532.70,263.53 532.95,263.53 533.20,263.53 533.45,263.53 533.70,263.54 533.95,263.54 534.20,263.54 534.45,263.54 534.70,263.55 534.95,263.55 535.20,263.55 535.45,263.55 535.70,263.56 535.95,263.56 536.20,263.56 536.45,263.56 536.70,263.57 536.95,263.57 537.20,263.57 537.45,263.57 537.70,263.58 537.95,263.58 538.20,263.58 538.45,263.58 538.70,263.59 538.95,263.54 539.20,263.47 539.45,263.35 539.70,263.15 539.95,262.85 540.20,262.41 540.45,261.98 540.70,261.48 540.95,260.86 541.20,260.11 541.45,259.24 541.70,258.24 541.95,257.14 542.20,255.95 542.45,254.72 542.70,253.49 542.95,252.31 543.20,251.23 543.45,250.35 543.70,249.97 543.95,250.60 544.20,251.44 544.45,252.42 544.70,253.48 544.95,254.58 545.20,255.69 545.45,256.77 545.70,257.79 545.95,258.75 546.20,259.61 546.45,260.38 546.70,261.04 546.95,261.60 547.20,262.07 547.45,262.46 547.70,262.89 547.95,263.22 548.20,263.46 548.45,263.62 548.70,263.72 548.95,263.80 549.20,263.84 549.45,263.85 549.70,263.86 549.95,263.87 550.20,263.87 550.45,263.88 550.70,263.89 550.95,263.89 551.20,263.90 551.45,263.90 551.70,263.88 551.95,263.84 552.20,263.75 552.45,263.64 552.70,263.50 552.95,263.30 553.20,263.06 553.45,262.77 553.70,262.46 553.95,262.15 554.20,261.88 554.45,261.69 554.70,261.87 554.95,262.16 555.20,262.48 555.45,262.80 555.70,263.09 555.95,263.31 556.20,263.45 556.45,263.48 556.70,263.41 556.95,263.23 557.20,262.92 557.45,262.58 557.70,262.14 557.95,261.58 558.20,260.92 558.45,260.16 558.70,259.30 558.95,258.37 559.20,257.40 559.45,256.43 559.70,255.48 559.95,254.62 560.20,253.91 560.45,253.60 560.70,254.08 560.95,254.73 561.20,255.49 561.45,256.30 561.70,257.15 561.95,258.00 562.20,258.83 562.45,259.62 562.70,260.36 562.95,261.02 563.20,261.61 563.45,262.12 563.70,262.56 563.95,262.92 564.20,263.22 564.45,263.55 564.70,263.81 564.95,263.99 565.20,264.12 565.45,264.20 565.70,264.26 565.95,264.29 566.20,264.30 566.45,264.29 566.70,264.29 566.95,264.29 567.20,264.28 567.45,264.28 567.70,264.28 567.95,264.27 568.20,264.27 568.45,264.26 568.70,264.26 568.95,264.26 569.20,264.25 569.45,264.25 569.70,264.25 569.95,264.24 570.20,264.24 570.45,264.23 570.70,264.23 570.95,264.22 571.20,264.19 571.45,264.15 571.70,264.09 571.95,263.99 572.20,263.85 572.45,263.66 572.70,263.48 572.95,263.27 573.20,263.00 573.45,262.69 573.70,262.33 573.95,261.93 574.20,261.48 574.45,261.01 574.70,260.52 574.95,260.03 575.20,259.56 575.45,259.13 575.70,258.77 575.95,258.57 576.20,258.81 576.45,259.15 576.70,259.55 576.95,259.99 577.20,260.44 577.45,260.90 577.70,261.34 577.95,261.76 578.20,262.15 578.45,262.49 578.70,262.80 578.95,263.06 579.20,263.28 579.45,263.46 579.70,263.61 579.95,263.78 580.20,263.89 580.45,263.97 580.70,264.02 580.95,264.05 581.20,264.07 581.45,264.07 581.70,264.07 581.95,264.07 582.20,264.06 582.45,264.06 582.70,264.05 582.95,264.05 583.20,264.05 583.45,264.04 583.70,264.03 583.95,264.00 584.20,263.97 584.45,263.91 584.70,263.82 584.95,263.69 585.20,263.54 585.45,263.39 585.70,263.20 585.95,262.98 586.20,262.71 586.45,262.41 586.70,262.07 586.95,261.69 587.20,261.30 587.45,260.89 587.70,260.49 587.95,260.11 588.20,259.77 588.45,259.49 588.70,259.41 588.95,259.63 589.20,259.93 589.45,260.26 589.70,260.62 589.95,261.00 590.20,261.37 590.45,261.73 590.70,262.07 590.95,262.37 591.20,262.64 591.45,262.85 591.70,263.02 591.95,263.12 592.20,263.17 592.45,263.16 592.70,263.15 592.95,263.08 593.20,262.95 593.45,262.75 593.70,262.51 593.95,262.21 594.20,261.87 594.45,261.51 594.70,261.12 594.95,260.74 595.20,260.36 595.45,260.01 595.70,259.70 595.95,259.48 596.20,259.59 596.45,259.84 596.70,260.14 596.95,260.48 597.20,260.83 597.45,261.19 597.70,261.54 597.95,261.87 598.20,262.18 598.45,262.47 598.70,262.72 598.95,262.93 599.20,263.11 599.45,263.26 599.70,263.38 599.95,263.52 600.20,263.60 600.45,263.65 600.70,263.67 600.95,263.68 601.20,263.68 601.45,263.67 601.70,263.64 601.95,263.62 602.20,263.60 602.45,263.56 602.70,263.49 602.95,263.39 603.20,263.24 603.45,263.01 603.70,262.68 603.95,262.23 604.20,261.82 604.45,261.31 604.70,260.69 604.95,259.95 605.20,259.10 605.45,258.15 605.70,257.10 605.95,255.99 606.20,254.85 606.45,253.72 606.70,252.66 606.95,251.71 607.20,250.95 607.45,250.91 607.70,251.52 607.95,252.29 608.20,253.17 608.45,254.11 608.70,255.07 608.95,256.03 609.20,256.96 609.45,257.84 609.70,258.64 609.95,259.36 610.20,259.99 610.45,260.53 610.70,260.98 610.95,261.35 611.20,261.67 611.45,262.02 611.70,262.26 611.95,262.42 612.20,262.52 612.45,262.57 612.70,262.60 612.95,262.60 613.20,262.58 613.45,262.57 613.70,262.55 614.20,262.60 614.80,259.00 615.20,250.00 615.50,200.00 615.90,7.60" stroke="#000" stroke-width="1.15"/>
<polyline points="625.30,7.60 626.50,100.00 627.60,175.00 628.50,205.00 629.40,230.30 629.90,240.00 630.40,247.00 631.00,252.00 631.90,255.50 633.00,258.00 634.50,259.60 637.60,260.50 641.90,260.30 642.20,260.44 642.45,260.43 642.70,260.41 642.95,260.40 643.20,260.39 643.45,260.37 643.70,260.36 643.95,260.34 644.20,260.33 644.45,260.32 644.70,260.30 644.95,260.28 645.20,260.25 645.45,260.21 645.70,260.16 645.95,260.10 646.20,260.01 646.45,259.89 646.70,259.74 646.95,259.61 647.20,259.45 647.45,259.27 647.70,259.06 647.95,258.82 648.20,258.55 648.45,258.26 648.70,257.94 648.95,257.61 649.20,257.26 649.45,256.90 649.70,256.55 649.95,256.20 650.20,255.88 650.45,255.60 650.70,255.37 650.95,255.32 651.20,255.47 651.45,255.67 651.70,255.90 651.95,256.15 652.20,256.41 652.45,256.68 652.70,256.96 652.95,257.23 653.20,257.49 653.45,257.74 653.70,257.97 653.95,258.19 654.20,258.38 654.45,258.55 654.70,258.70 654.95,258.83 655.20,258.94 655.45,259.04 655.70,259.12 655.95,259.21 656.20,259.28 656.45,259.33 656.70,259.36 656.95,259.35 657.20,259.31 657.45,259.25 657.70,259.17 657.95,259.04 658.20,258.86 658.45,258.60 658.70,258.35 658.95,258.09 659.20,257.77 659.45,257.40 659.70,256.97 659.95,256.47 660.20,255.92 660.45,255.32 660.70,254.67 660.95,253.99 661.20,253.29 661.45,252.59 661.70,251.90 661.95,251.25 662.20,250.66 662.45,250.16 662.70,249.83 662.95,250.06 663.20,250.39 663.45,250.78 663.70,251.22 663.95,251.69 664.20,252.18 664.45,252.69 664.70,253.21 664.95,253.73 665.20,254.24 665.45,254.73 665.70,255.21 665.95,255.67 666.20,256.10 666.45,256.50 666.70,256.87 666.95,257.21 667.20,257.51 667.45,257.79 667.70,258.03 667.95,258.25 668.20,258.43 668.45,258.61 668.70,258.82 668.95,258.98 669.20,259.11 669.45,259.22 669.70,259.30 669.95,259.36 670.20,259.40 670.45,259.44 670.70,259.46 670.95,259.48 671.20,259.49 671.45,259.49 671.70,259.49 671.95,259.49 672.20,259.49 672.45,259.49 672.70,259.49 672.95,259.50 673.20,259.50 673.45,259.50 673.70,259.51 673.95,259.53 674.20,259.56 674.45,259.58 674.70,259.60 674.95,259.62 675.20,259.65 675.45,259.67 675.70,259.69 675.95,259.72 676.20,259.74 676.45,259.76 676.70,259.79 676.95,259.81 677.20,259.83 677.45,259.85 677.70,259.88 677.95,259.90 678.20,259.92 678.45,259.95 678.70,259.97 678.95,259.99 679.20,260.02 679.45,260.04 679.70,260.06 679.95,260.08 680.20,260.11 680.45,260.13 680.70,260.15 680.95,260.18 681.20,260.20 681.45,260.21 681.70,260.22 681.95,260.23 682.20,260.24 682.45,260.24 682.70,260.23 682.95,260.20 683.20,260.15 683.45,260.08 683.70,259.98 683.95,259.82 684.20,259.61 684.45,259.36 684.70,259.13 684.95,258.86 685.20,258.54 685.45,258.17 685.70,257.74 685.95,257.25 686.20,256.72 686.45,256.13 686.70,255.51 686.95,254.85 687.20,254.18 687.45,253.51 687.70,252.85 687.95,252.22 688.20,251.64 688.45,251.14 688.70,250.76 688.95,250.84 689.20,251.19 689.45,251.62 689.70,252.11 689.95,252.64 690.20,253.19 690.45,253.77 690.70,254.35 690.95,254.92 691.20,255.49 691.45,256.04 691.70,256.56 691.95,257.05 692.20,257.51 692.45,257.93 692.70,258.32 692.95,258.66 693.20,258.97 693.45,259.24 693.70,259.48 693.95,259.69 694.20,259.91 694.45,260.12 694.70,260.29 694.95,260.42 695.20,260.52 695.45,260.60 695.70,260.66 695.95,260.71 696.20,260.74 696.45,260.77 696.70,260.78 696.95,260.79 697.20,260.80 697.45,260.81 697.70,260.82 697.95,260.84 698.20,260.86 698.45,260.87 698.70,260.89 698.95,260.90 699.20,260.92 699.45,260.93 699.70,260.95 699.95,260.96 700.20,260.98 700.45,261.00 700.70,261.01 700.95,261.03 701.20,261.04 701.45,261.06 701.70,261.07 701.95,261.09 702.20,261.10 702.45,261.12 702.70,261.14 702.95,261.15 703.20,261.17 703.45,261.18 703.70,261.20 703.95,261.21 704.20,261.23 704.45,261.24 704.70,261.26 704.95,261.28 705.20,261.29 705.45,261.31 705.70,261.32 705.95,261.34 706.20,261.35 706.45,261.37 706.70,261.38 706.95,261.40 707.20,261.41 707.45,261.43 707.70,261.45 707.95,261.46 708.20,261.48 708.45,261.49 708.70,261.51 708.95,261.52 709.20,261.54 709.45,261.55 709.70,261.57 709.95,261.59 710.20,261.60 710.45,261.62 710.70,261.63 710.95,261.65 711.20,261.66 711.45,261.68 711.70,261.69 711.95,261.71 712.20,261.73 712.45,261.74 712.70,261.76 712.95,261.77 713.20,261.79 713.45,261.80 713.70,261.81 713.95,261.82 714.20,261.83 714.45,261.84 714.70,261.85 714.95,261.86 715.20,261.86 715.45,261.87 715.70,261.88 715.95,261.89 716.20,261.90 716.45,261.91 716.70,261.92 716.95,261.93 717.20,261.94 717.45,261.94 717.70,261.95 717.95,261.96 718.20,261.97 718.45,261.98 718.70,261.99 718.95,262.00 719.20,262.01 719.45,262.02 719.70,262.04 719.95,262.05 720.20,262.06 720.45,262.07 720.70,262.08 720.95,262.10 721.20,262.11 721.45,262.12 721.70,262.13 721.95,262.15 722.20,262.16 722.45,262.17 722.70,262.19 722.95,262.20 723.20,262.21 723.45,262.22 723.70,262.24 723.95,262.25 724.20,262.26 724.45,262.27 724.70,262.29 724.95,262.30 725.20,262.31 725.45,262.32 725.70,262.33 725.95,262.35 726.20,262.36 726.45,262.37 726.70,262.38 726.95,262.40 727.20,262.41 727.45,262.42 727.70,262.44 727.95,262.45 728.20,262.46 728.45,262.47 728.70,262.49 728.95,262.50 729.20,262.51 729.45,262.52 729.70,262.54 729.95,262.55 730.20,262.56 730.45,262.57 730.70,262.58 730.95,262.60 731.20,262.61 731.45,262.62 731.70,262.63 731.95,262.65 732.20,262.66 732.45,262.67 732.70,262.69 732.95,262.70 733.20,262.71 733.45,262.72 733.70,262.74 733.95,262.75 734.20,262.76 734.45,262.77 734.70,262.79 734.95,262.80 735.20,262.81 735.45,262.82 735.70,262.84 735.95,262.85 736.20,262.86 736.45,262.87 736.70,262.88 736.95,262.90 737.20,262.91 737.45,262.92 737.70,262.94 737.95,262.95 738.20,262.96 738.45,262.97 738.70,262.99 738.95,263.00 739.20,263.01 739.45,263.02 739.70,263.04 739.95,263.05 740.20,263.06 740.45,263.07 740.70,263.09 740.95,263.10 741.20,263.11 741.45,263.12 741.70,263.13 741.95,263.15 742.20,263.16 742.45,263.17 742.70,263.19 742.95,263.20 743.20,263.21 743.45,263.22 743.70,263.24 743.95,263.25 744.20,263.26 744.45,263.27 744.70,263.29 744.95,263.30 745.20,263.29 745.45,263.27 745.70,263.25 745.95,263.24 746.20,263.22 746.45,263.20 746.70,263.19 746.95,263.17 747.20,263.15 747.45,263.14 747.70,263.12 747.95,263.10 748.20,263.09 748.45,263.07 748.70,263.05 748.95,263.04 749.20,263.02 749.45,263.00 749.70,262.99 749.95,262.97 750.20,262.95 750.45,262.94 750.70,262.92 750.95,262.90 751.20,262.89 751.45,262.87 751.70,262.85 751.95,262.84 752.20,262.82 752.45,262.80 752.70,262.79 752.95,262.77 753.20,262.75 753.45,262.74 753.70,262.72 753.95,262.70 754.20,262.69 754.45,262.67 754.70,262.65 754.95,262.64 755.20,262.62 755.45,262.60 755.70,262.53 755.95,262.45 756.20,262.37 756.45,262.28 756.70,262.20 756.95,262.12 757.20,262.03 757.45,261.95 757.70,261.87 757.95,261.78 758.20,261.70 758.45,261.62 758.70,261.41 758.95,261.16 759.20,260.92 759.45,260.67 759.70,260.43 759.95,260.19 760.20,259.94 760.45,259.70 760.70,259.46 760.95,259.21 761.20,258.97 761.45,258.73 761.70,258.48 761.95,258.24 762.20,258.00 762.45,257.75 762.70,257.51 762.95,257.26 763.20,257.02 763.45,256.78 763.70,256.53 763.95,256.29 764.20,256.05 764.45,255.80 764.70,255.56 764.95,255.32 765.20,255.07 765.45,254.83 765.70,254.59 765.95,254.34 766.20,254.10 766.45,253.86 766.70,253.61 766.95,253.37 767.20,253.12 767.45,252.88 767.70,252.64 767.95,252.39 768.20,252.15 768.45,251.91 768.70,251.66 768.95,251.42 769.20,251.18 769.45,250.93 769.70,250.69 769.95,250.45 770.20,250.20 770.45,249.96 770.70,249.71 770.95,249.47 771.20,249.23 771.45,248.98 771.70,248.74 771.95,248.50 772.20,248.25 772.45,248.01 772.70,247.77 772.95,247.52 773.20,247.28 773.45,247.04 773.70,246.79 773.95,246.55 774.20,246.30 774.45,246.06 774.70,245.82 774.95,245.57 775.20,245.33 775.45,245.09 775.70,244.84 775.95,244.60 776.20,244.36 776.45,244.11 776.70,243.87 776.95,243.63 777.20,243.38 777.45,243.14 777.70,242.90 777.95,242.65 778.20,242.41 778.45,242.16 778.70,241.92 778.95,241.68 779.20,241.43 779.45,241.19 779.70,240.95 779.95,240.70 780.20,240.46 780.45,240.22 780.70,239.97 780.95,239.73 781.20,239.49 781.45,239.24 781.70,239.00 781.95,238.75 782.20,238.51 782.45,238.27 782.70,238.02 782.95,237.78 783.20,237.54 783.45,237.29 783.70,237.05 783.95,236.81 784.20,236.56 784.45,236.32 784.70,236.08 784.95,235.83 785.20,235.59 785.45,235.34 785.70,235.10 785.95,234.86 786.20,234.61 786.45,234.37 786.70,234.13 786.95,233.88 787.20,233.64 787.45,233.40 787.70,233.15 787.95,232.91 788.20,232.67 788.45,232.42 788.70,232.18 788.95,231.94 789.20,231.69 789.45,231.45 789.70,231.20 789.95,230.96 790.20,230.72 790.45,230.47 790.70,230.23 790.95,229.99 791.20,229.74 791.45,229.50 791.70,229.26 791.95,229.01 792.20,228.77 792.45,228.53 792.70,228.28 792.95,228.04 793.20,227.79 793.45,227.58 793.70,227.47 793.95,227.36 794.20,227.24 794.45,227.13 794.70,227.02 794.95,226.91 795.20,226.80 795.45,226.69 795.70,226.58 795.95,226.47 796.20,226.36 796.45,226.24 796.70,226.13 796.95,226.02 797.20,225.96 797.45,225.90 797.70,225.84 797.95,225.79 798.20,225.73 798.45,225.68 798.70,225.62 798.95,225.57 799.20,225.51 799.45,225.46 799.70,225.40 799.95,225.29 800.20,225.18 800.45,225.07 800.70,225.05 800.95,225.18 801.20,225.30 801.45,225.43 801.70,225.50 801.95,225.51 802.20,225.52 802.45,225.53 802.70,225.53 802.95,225.54 803.20,225.55 803.45,225.56 803.70,225.56 803.95,225.57 804.20,225.58 804.45,225.59 804.70,225.59 804.95,225.60 805.20,225.61 805.45,225.61 805.70,225.62 805.95,225.63 806.20,225.64 806.45,225.64 806.70,225.65 806.95,225.66 807.20,225.67 807.45,225.67 807.70,225.68 807.95,225.69 808.20,225.70 808.45,225.70 808.70,225.71 808.95,225.72 809.20,225.73 809.45,225.73 809.70,225.74 809.95,225.75 810.20,225.76 810.45,225.76 810.70,225.77 810.95,225.78 811.20,225.79 811.45,225.79 811.70,225.80 811.95,225.81 812.20,225.82 812.45,225.82 812.70,225.83 812.95,225.84 813.20,225.85 813.45,225.85 813.70,225.86 813.95,225.87 814.20,225.88 814.45,225.88 814.70,225.89 814.95,225.90 815.20,225.91 815.45,225.91 815.70,225.92 815.95,225.93 816.20,225.94 816.45,225.95 816.70,225.95 816.95,225.96 817.20,225.97 817.45,225.98 817.70,225.99 817.95,225.99 818.20,226.00 818.45,226.01 818.70,226.02 818.95,226.03 819.20,226.03 819.45,226.04 819.70,226.05 819.95,226.06 820.20,226.07 820.45,226.07 820.70,226.08 820.95,226.09 821.20,226.10 821.45,226.11 821.70,226.11 821.95,226.12 822.20,226.13 822.45,226.14 822.70,226.15 822.95,226.15 823.20,226.16 823.45,226.17 823.70,226.18 823.95,226.19 824.20,226.19 824.45,226.17 824.70,226.01 824.95,225.86 825.20,225.70 825.45,225.88 825.70,226.05 825.95,226.22 826.20,226.40 826.45,226.43 826.70,226.46 826.95,226.50 827.20,226.53 827.45,226.56 827.70,226.59 827.95,226.62 828.20,226.65 828.45,226.69 828.70,226.72 828.95,226.75 829.20,226.78 829.45,226.81 829.70,226.85 829.95,226.88 830.20,226.91 830.45,226.94 830.70,226.97 830.95,227.00 831.20,227.04 831.45,227.07 831.70,227.10 831.95,227.13 832.20,227.16 832.45,227.19 832.70,227.23 832.95,227.26 833.20,227.29 833.45,227.32 833.70,227.35 833.95,227.39 834.20,227.42 834.45,227.45 834.70,227.48 834.95,227.51 835.20,227.54 835.45,227.58 835.70,227.61 835.95,227.64 836.20,227.67 836.45,227.70 836.70,227.74 836.95,227.77 837.20,227.80 837.45,227.83 837.70,227.86 837.95,227.89 838.20,227.93 838.45,227.96 838.70,227.99 838.95,228.02 839.20,228.05 839.45,228.09 839.70,228.12 839.95,228.15 840.20,228.18 840.45,228.21 840.70,228.24 840.95,228.28 841.20,228.31 841.45,228.34 841.70,228.37 841.95,228.40 842.20,228.44 842.45,228.47 842.70,228.50 842.95,228.53 843.20,228.56 843.45,228.59 843.70,228.63 843.95,228.66 844.20,228.69 844.45,228.72 844.70,228.75 844.95,228.78 845.20,228.82 845.45,228.85 845.70,228.88 845.95,228.91 846.20,228.94 846.45,228.98 846.70,229.01 846.95,229.04 847.20,229.07 847.45,229.10 847.70,229.13 847.95,229.17 848.20,229.20 848.45,229.23 848.70,229.26 848.95,229.29 849.20,229.31 849.45,229.33 849.70,229.35 849.95,229.37 850.20,229.39 850.45,229.40 850.70,229.42 850.95,229.44 851.20,229.46 851.45,229.48 851.70,229.49 851.95,229.51 852.20,229.53 852.45,229.55 852.70,229.56 852.95,229.58 853.20,229.60 853.45,229.62 853.70,229.64 853.95,229.65 854.20,229.67 854.45,229.69 854.70,229.71 854.95,229.73 855.20,229.74 855.45,229.76 855.70,229.78 855.95,229.80 856.20,229.81 856.45,229.83 856.70,229.85 856.95,229.87 857.20,229.89 857.45,229.90 857.70,229.92 857.95,229.94 858.20,229.96 858.45,229.98 858.70,229.99 858.95,230.01 859.20,230.03 859.45,230.05 859.70,230.06 859.95,230.08 860.20,230.10 860.45,230.12 860.70,230.14 860.95,230.15 861.20,230.17 861.45,230.19 861.70,230.21 861.95,230.23 862.20,230.24 862.45,230.26 862.70,230.28 862.95,230.30 863.20,230.31 863.45,230.33 863.70,230.35 863.95,230.37 864.20,230.39 864.45,230.40 864.70,230.42 864.95,230.44 865.20,230.46 865.45,230.48 865.70,230.49 865.95,230.51 866.20,230.53 866.45,230.55 866.70,230.56 866.95,230.58 867.20,230.60 867.45,230.62 867.70,230.64 867.95,230.65 868.20,230.67 868.45,230.69 868.70,230.71 868.95,230.73 869.20,230.74 869.45,230.76 869.70,230.78 869.95,230.80 870.20,230.81 870.45,230.82 870.70,230.83 870.95,230.84 871.20,230.85 871.45,230.87 871.70,230.88 871.95,230.89 872.20,230.90 872.45,230.91 872.70,230.92 872.95,230.93 873.20,230.95 873.45,230.96 873.70,230.97 873.95,230.98 874.20,230.99 874.45,231.00 874.70,231.01 874.95,231.03 875.20,231.04 875.45,231.05 875.70,231.06 875.95,231.07 876.20,231.08 876.45,231.09 876.70,231.11 876.95,231.12 877.20,231.13 877.45,231.14 877.70,231.15 877.95,231.16 878.20,231.17 878.45,231.19 878.70,231.20 878.95,231.21 879.20,231.22 879.45,231.23 879.70,231.24 879.95,231.25 880.20,231.27 880.45,231.28 880.70,231.29 880.95,231.30 881.20,231.31 881.45,231.32 881.70,231.33 881.95,231.35 882.20,231.36 882.45,231.37 882.70,231.38 882.95,231.39 883.20,231.40 883.45,231.41 883.70,231.43 883.95,231.44 884.20,231.45 884.45,231.46 884.70,231.47 884.95,231.48 885.20,231.49 885.45,231.51 885.70,231.52 885.95,231.53 886.20,231.54 886.45,231.55 886.70,231.56 886.95,231.57 887.20,231.59 887.45,231.60 887.70,231.61 887.95,231.62 888.20,231.63 888.45,231.64 888.70,231.65 888.95,231.67 889.20,231.68 889.45,231.69 889.70,231.70 889.95,231.71 890.20,231.72 890.45,231.73 890.70,231.75 890.95,231.76 891.20,231.77 891.45,231.78 891.70,231.79 891.95,231.80 892.20,231.80 892.45,231.80 892.70,231.79 892.95,231.79 893.20,231.79 893.45,231.79 893.70,231.78 893.95,231.78 894.20,231.78 894.45,231.78 894.70,231.78 894.95,231.77 895.20,231.77 895.45,231.77 895.70,231.77 895.95,231.76 896.20,231.76 896.45,231.76 896.70,231.76 896.95,231.76 897.20,231.75 897.45,231.75 897.70,231.75 897.95,231.75 898.20,231.75 898.45,231.74 898.70,231.74 898.95,231.74 899.20,231.74 899.45,231.73 899.70,231.73 899.95,231.73 900.20,231.73 900.45,231.73 900.70,231.72 900.95,231.72 901.20,231.72 901.45,231.72 901.70,231.72 901.95,231.71 902.20,231.71 902.45,231.71 902.70,231.71 902.95,231.70 903.20,231.70 903.45,231.70 903.70,231.70 903.95,231.70 904.20,231.69 904.45,231.69 904.70,231.69 904.95,231.69 905.20,231.68 905.45,231.68 905.70,231.68 905.95,231.68 906.20,231.68 906.45,231.67 906.70,231.67 906.95,231.67 907.20,231.67 907.45,231.67 907.70,231.66 907.95,231.66 908.20,231.66 908.45,231.66 908.70,231.65 908.95,231.65 909.20,231.65 909.45,231.65 909.70,231.65 909.95,231.64 910.20,231.64 910.45,231.64 910.70,231.64 910.95,231.64 911.20,231.63 911.45,231.63 911.70,231.63 911.95,231.63 912.20,231.62 912.45,231.62 912.70,231.62 912.95,231.62 913.20,231.62 913.45,231.61 913.70,231.61 913.95,231.61 914.20,231.61 914.45,231.60 914.70,231.60 914.95,231.60 915.20,231.60 915.45,231.61 915.70,231.61 915.95,231.62 916.20,231.62 916.45,231.62 916.70,231.63 916.95,231.63 917.20,231.64 917.45,231.64 917.70,231.64 917.95,231.65 918.20,231.65 918.45,231.66 918.70,231.66 918.95,231.67 919.20,231.67 919.45,231.67 919.70,231.68 919.95,231.68 920.20,231.69 920.45,231.69 920.70,231.69 920.95,231.70 921.20,231.79 921.45,231.90 921.70,232.02 921.95,232.13 922.20,232.24 922.45,232.35 922.70,232.47 922.95,232.58 923.20,233.03 923.45,233.56 923.70,234.10 923.95,234.64 924.20,235.17 924.45,235.90 924.70,237.40 924.95,238.90 925.20,240.40 925.45,241.90 925.70,243.40 925.95,245.39 926.20,247.71 926.45,250.02 926.70,252.34 926.95,254.66 927.20,256.97 927.45,259.72 927.70,262.75 927.95,265.78 928.20,268.81 928.45,271.84 928.70,274.87 928.95,277.90 929.20,280.93 929.45,283.96 929.70,286.99 929.95,289.41 930.20,291.43 930.45,293.45 930.70,295.47 930.95,297.49 931.20,299.51 931.45,301.53 931.70,303.55 931.95,305.57 932.20,307.59 932.45,308.94 932.70,309.85 932.95,310.75 933.20,311.65 933.45,312.56 933.70,313.46 933.95,314.37 934.20,315.27 934.45,316.17 934.70,317.08 934.95,317.90 935.20,318.38 935.45,318.86 935.70,319.34 935.95,319.82 936.20,320.30 936.45,320.78 936.70,321.26 936.95,321.74 937.20,322.22 937.45,322.64 937.70,322.84 937.95,323.03 938.20,323.23 938.45,323.43 938.70,323.63 938.95,323.82 939.20,324.02 939.45,324.22 939.70,324.42 939.95,324.61 940.20,324.81 940.45,325.01 940.70,325.21 940.95,325.40 941.20,325.60 941.45,325.67 941.70,325.74 941.95,325.81 942.20,325.88 942.45,325.95 942.70,326.02 942.95,326.09 943.20,326.16 943.45,326.23 943.70,326.30 943.95,326.37 944.20,326.44" stroke="#000" stroke-width="1.15"/>
<path d="M216.85 261.4V273.4M225.89 233.2V245.2M267.14 266.3V278.3M516.61 242.6V254.6M543.65 243.9V255.9M554.46 254.3V266.3M560.40 246.0V258.0M575.92 253.0V265.0M588.62 252.4V264.4M596.00 252.4V264.4M607.32 245.2V257.2M650.84 250.2V262.2M662.70 244.8V256.8M688.78 245.2V257.2" stroke="#222" stroke-width="0.8"/>
<polyline points="215.40,308.20 223.90,301.60 227.50,296.60" stroke="#ff0000" stroke-width="1.1"/>
<polyline points="263.80,283.00 270.00,279.40" stroke="#ff0000" stroke-width="1.1"/>
<polyline points="511.50,263.30 525.40,263.30" stroke="#ff0000" stroke-width="1.1"/>
<polyline points="538.20,263.80 549.50,264.30 551.60,263.70 556.80,260.90 565.80,264.60 568.40,265.10 581.60,264.10 584.70,264.00 592.60,261.40 600.70,264.50 603.20,264.30 613.20,262.40 639.50,260.60 646.50,260.00 657.50,259.10 673.60,259.30 681.20,260.10 697.30,260.60" stroke="#ff0000" stroke-width="1.1"/>
<path d="M215.4 308.5l-2.7 7.8h5.4zM223.9 301.9l-2.7 7.8h5.4zM227.5 296.9l-2.7 7.8h5.4zM263.8 283.3l-2.7 7.8h5.4zM270.0 279.7l-2.7 7.8h5.4zM511.5 263.6l-2.7 7.8h5.4zM525.4 263.6l-2.7 7.8h5.4zM538.2 264.1l-2.7 7.8h5.4zM549.5 264.6l-2.7 7.8h5.4zM551.6 264.0l-2.7 7.8h5.4zM556.8 261.2l-2.7 7.8h5.4zM565.8 264.9l-2.7 7.8h5.4zM568.4 265.4l-2.7 7.8h5.4zM581.6 264.4l-2.7 7.8h5.4zM584.7 264.3l-2.7 7.8h5.4zM592.6 261.7l-2.7 7.8h5.4zM600.7 264.8l-2.7 7.8h5.4zM603.2 264.6l-2.7 7.8h5.4zM613.2 262.7l-2.7 7.8h5.4zM639.5 260.9l-2.7 7.8h5.4zM646.5 260.3l-2.7 7.8h5.4zM657.5 259.4l-2.7 7.8h5.4zM673.6 259.6l-2.7 7.8h5.4zM681.2 260.4l-2.7 7.8h5.4zM697.3 260.9l-2.7 7.8h5.4z" stroke="#ff0000" stroke-width="1.05" fill="#fff" fill-opacity="0.5"/>
</g>
<g font-family="Liberation Sans, Arial, sans-serif" font-size="6.8" fill="#000" stroke="#000" stroke-width="0.1" clip-path="url(#pc)">
<text transform="translate(218.35 259.0) rotate(-90)" textLength="177.4" lengthAdjust="spacingAndGlyphs">Des Side chain Semaglutide - 25.786</text>
<text transform="translate(227.39 230.8) rotate(-90)" textLength="157.5" lengthAdjust="spacingAndGlyphs">3-31 Linear Semaglutide - 27.031</text>
<text transform="translate(268.64 263.7) rotate(-90)" textLength="135.8" lengthAdjust="spacingAndGlyphs">Unknown impurity 1 - 32.714</text>
<text transform="translate(518.11 240.9) rotate(-90)" textLength="153.8" lengthAdjust="spacingAndGlyphs">D-Ser (11) Semaglutide - 67.086</text>
<text transform="translate(545.15 241.8) rotate(-90)" textLength="146.5" lengthAdjust="spacingAndGlyphs">D-Ser (8) Semaglutide - 70.811</text>
<text transform="translate(555.96 251.5) rotate(-90)" textLength="148.6" lengthAdjust="spacingAndGlyphs">Degradation Impurity 1 - 72.301</text>
<text transform="translate(561.90 243.7) rotate(-90)" textLength="150.0" lengthAdjust="spacingAndGlyphs">D-Asp (9) Semaglutide - 73.119</text>
<text transform="translate(577.42 251.0) rotate(-90)" textLength="137.4" lengthAdjust="spacingAndGlyphs">Unknown impurity 2 - 75.258</text>
<text transform="translate(590.12 249.8) rotate(-90)" textLength="150.1" lengthAdjust="spacingAndGlyphs">Degradation Impurity 2 - 77.007</text>
<text transform="translate(597.50 250.0) rotate(-90)" textLength="135.8" lengthAdjust="spacingAndGlyphs">Unknown impurity 3 - 78.024</text>
<text transform="translate(608.82 242.7) rotate(-90)" textLength="146.7" lengthAdjust="spacingAndGlyphs">D-Phe(6) Semaglutide - 79.584</text>
<text transform="translate(619.32 109.6) rotate(-90)" textLength="102.2" lengthAdjust="spacingAndGlyphs">Semaglutide - 81.030</text>
<text transform="translate(652.34 247.5) rotate(-90)" textLength="149.7" lengthAdjust="spacingAndGlyphs">Degradation Impurity 3 - 85.580</text>
<text transform="translate(664.20 242.7) rotate(-90)" textLength="147.8" lengthAdjust="spacingAndGlyphs">D-His (1) Semaglutide - 87.214</text>
<text transform="translate(690.28 243.1) rotate(-90)" textLength="125.6" lengthAdjust="spacingAndGlyphs">3-31 Semaglutide - 90.808</text>
</g>
</svg>
<div class="tbl">
<div class="c h" style="left:23px;top:400.9px;width:102.0px;height:17.0px;line-height:20.4px"></div>
<div class="c h" style="left:126.9px;top:400.9px;width:196.7px;height:17.0px;line-height:20.4px;letter-spacing:0.21px;text-indent:0.21px">Analyte</div>
<div class="c h" style="left:325.3px;top:400.9px;width:101.4px;height:17.0px;line-height:20.4px;letter-spacing:-0.25px;text-indent:-0.25px">Retention Time</div>
<div class="c h" style="left:428.3px;top:400.9px;width:101.9px;height:17.0px;line-height:20.4px;letter-spacing:-0.27px;text-indent:-0.27px">Area</div>
<div class="c h" style="left:531.9px;top:400.9px;width:101.7px;height:17.0px;line-height:20.4px;letter-spacing:-0.45px;text-indent:-0.45px">% Area</div>
<div class="c h" style="left:635.2px;top:400.9px;width:101.7px;height:17.0px;line-height:20.4px;letter-spacing:-0.50px;text-indent:-0.50px">Height</div>
<div class="c h" style="left:738.5px;top:400.9px;width:102.0px;height:17.0px;line-height:20.4px;letter-spacing:-0.49px;text-indent:-0.49px">USP Resolution</div>
<div class="c h" style="left:842.1px;top:400.9px;width:101.7px;height:17.0px;line-height:20.4px;letter-spacing:-0.58px;text-indent:-0.58px">USP Tailing</div>
<div class="c a" style="left:23px;top:422.8px;width:102.0px;height:17.1px;line-height:16.5px">1</div>
<div class="c a" style="left:126.9px;top:422.8px;width:196.7px;height:17.1px;line-height:16.5px;letter-spacing:-0.14px;text-indent:-0.14px">Des Side chain Semaglutide</div>
<div class="c a" style="left:325.3px;top:422.8px;width:101.4px;height:17.1px;line-height:16.5px">25.786</div>
<div class="c a" style="left:428.3px;top:422.8px;width:101.9px;height:17.1px;line-height:16.5px;letter-spacing:-0.20px;text-indent:-0.20px">132364</div>
<div class="c a" style="left:531.9px;top:422.8px;width:101.7px;height:17.1px;line-height:16.5px">1.16</div>
<div class="c a" style="left:635.2px;top:422.8px;width:101.7px;height:17.1px;line-height:16.5px;letter-spacing:-0.20px;text-indent:-0.20px">6297</div>
<div class="c a" style="left:738.5px;top:422.8px;width:102.0px;height:17.1px;line-height:16.5px"></div>
<div class="c a" style="left:842.1px;top:422.8px;width:101.7px;height:17.1px;line-height:16.5px">1.9</div>
<div class="c b" style="left:23px;top:441.1px;width:102.0px;height:19.5px;line-height:20.5px">2</div>
<div class="c b" style="left:126.9px;top:441.1px;width:196.7px;height:19.5px;line-height:20.5px;letter-spacing:-0.08px;text-indent:-0.08px">3-31 Linear Semaglutide</div>
<div class="c b" style="left:325.3px;top:441.1px;width:101.4px;height:19.5px;line-height:20.5px">27.031</div>
<div class="c b" style="left:428.3px;top:441.1px;width:101.9px;height:19.5px;line-height:20.5px;letter-spacing:-0.20px;text-indent:-0.20px">103660</div>
<div class="c b" style="left:531.9px;top:441.1px;width:101.7px;height:19.5px;line-height:20.5px">0.91</div>
<div class="c b" style="left:635.2px;top:441.1px;width:101.7px;height:19.5px;line-height:20.5px;letter-spacing:-0.20px;text-indent:-0.20px">9559</div>
<div class="c b" style="left:738.5px;top:441.1px;width:102.0px;height:19.5px;line-height:20.5px">3.2</div>
<div class="c b" style="left:842.1px;top:441.1px;width:101.7px;height:19.5px;line-height:20.5px">1.0</div>
<div class="c a" style="left:23px;top:462.0px;width:102.0px;height:13.2px;line-height:14.2px">3</div>
<div class="c a" style="left:126.9px;top:462.0px;width:196.7px;height:13.2px;line-height:14.2px;letter-spacing:0.15px;text-indent:0.15px">Unknown impurity 1</div>
<div class="c a" style="left:325.3px;top:462.0px;width:101.4px;height:13.2px;line-height:14.2px">32.714</div>
<div class="c a" style="left:428.3px;top:462.0px;width:101.9px;height:13.2px;line-height:14.2px;letter-spacing:-0.20px;text-indent:-0.20px">17506</div>
<div class="c a" style="left:531.9px;top:462.0px;width:101.7px;height:13.2px;line-height:14.2px">0.15</div>
<div class="c a" style="left:635.2px;top:462.0px;width:101.7px;height:13.2px;line-height:14.2px;letter-spacing:-0.20px;text-indent:-0.20px">1396</div>
<div class="c a" style="left:738.5px;top:462.0px;width:102.0px;height:13.2px;line-height:14.2px">18.6</div>
<div class="c a" style="left:842.1px;top:462.0px;width:101.7px;height:13.2px;line-height:14.2px">0.7</div>
<div class="c b" style="left:23px;top:476.7px;width:102.0px;height:13.7px;line-height:14.7px">4</div>
<div class="c b" style="left:126.9px;top:476.7px;width:196.7px;height:13.7px;line-height:14.7px;letter-spacing:-0.12px;text-indent:-0.12px">D-Ser (11) Semaglutide</div>
<div class="c b" style="left:325.3px;top:476.7px;width:101.4px;height:13.7px;line-height:14.7px">67.086</div>
<div class="c b" style="left:428.3px;top:476.7px;width:101.9px;height:13.7px;line-height:14.7px;letter-spacing:-0.20px;text-indent:-0.20px">75088</div>
<div class="c b" style="left:531.9px;top:476.7px;width:101.7px;height:13.7px;line-height:14.7px">0.66</div>
<div class="c b" style="left:635.2px;top:476.7px;width:101.7px;height:13.7px;line-height:14.7px;letter-spacing:-0.20px;text-indent:-0.20px">2304</div>
<div class="c b" style="left:738.5px;top:476.7px;width:102.0px;height:13.7px;line-height:14.7px">59.2</div>
<div class="c b" style="left:842.1px;top:476.7px;width:101.7px;height:13.7px;line-height:14.7px">1.2</div>
<div class="c a" style="left:23px;top:491.8px;width:102.0px;height:13.7px;line-height:14.7px">5</div>
<div class="c a" style="left:126.9px;top:491.8px;width:196.7px;height:13.7px;line-height:14.7px;letter-spacing:-0.16px;text-indent:-0.16px">D-Ser (8) Semaglutide</div>
<div class="c a" style="left:325.3px;top:491.8px;width:101.4px;height:13.7px;line-height:14.7px">70.811</div>
<div class="c a" style="left:428.3px;top:491.8px;width:101.9px;height:13.7px;line-height:14.7px;letter-spacing:-0.20px;text-indent:-0.20px">74264</div>
<div class="c a" style="left:531.9px;top:491.8px;width:101.7px;height:13.7px;line-height:14.7px">0.65</div>
<div class="c a" style="left:635.2px;top:491.8px;width:101.7px;height:13.7px;line-height:14.7px;letter-spacing:-0.20px;text-indent:-0.20px">2183</div>
<div class="c a" style="left:738.5px;top:491.8px;width:102.0px;height:13.7px;line-height:14.7px">4.3</div>
<div class="c a" style="left:842.1px;top:491.8px;width:101.7px;height:13.7px;line-height:14.7px">1.0</div>
<div class="c b" style="left:23px;top:506.8px;width:102.0px;height:19.2px;line-height:20.2px">6</div>
<div class="c b" style="left:126.9px;top:506.8px;width:196.7px;height:19.2px;line-height:20.2px;letter-spacing:0.13px;text-indent:0.13px">Degradation Impurity 1</div>
<div class="c b" style="left:325.3px;top:506.8px;width:101.4px;height:19.2px;line-height:20.2px">72.301</div>
<div class="c b" style="left:428.3px;top:506.8px;width:101.9px;height:19.2px;line-height:20.2px;letter-spacing:-0.20px;text-indent:-0.20px">8341</div>
<div class="c b" style="left:531.9px;top:506.8px;width:101.7px;height:19.2px;line-height:20.2px">0.07</div>
<div class="c b" style="left:635.2px;top:506.8px;width:101.7px;height:19.2px;line-height:20.2px;letter-spacing:-0.20px;text-indent:-0.20px">365</div>
<div class="c b" style="left:738.5px;top:506.8px;width:102.0px;height:19.2px;line-height:20.2px">2.0</div>
<div class="c b" style="left:842.1px;top:506.8px;width:101.7px;height:19.2px;line-height:20.2px">0.8</div>
<div class="c a" style="left:23px;top:527.4px;width:102.0px;height:13.2px;line-height:14.2px">7</div>
<div class="c a" style="left:126.9px;top:527.4px;width:196.7px;height:13.2px;line-height:14.2px;letter-spacing:-0.18px;text-indent:-0.18px">D-Asp (9) Semaglutide</div>
<div class="c a" style="left:325.3px;top:527.4px;width:101.4px;height:13.2px;line-height:14.2px">73.119</div>
<div class="c a" style="left:428.3px;top:527.4px;width:101.9px;height:13.2px;line-height:14.2px;letter-spacing:-0.20px;text-indent:-0.20px">50461</div>
<div class="c a" style="left:531.9px;top:527.4px;width:101.7px;height:13.2px;line-height:14.2px">0.44</div>
<div class="c a" style="left:635.2px;top:527.4px;width:101.7px;height:13.2px;line-height:14.2px;letter-spacing:-0.20px;text-indent:-0.20px">1638</div>
<div class="c a" style="left:738.5px;top:527.4px;width:102.0px;height:13.2px;line-height:14.2px">1.1</div>
<div class="c a" style="left:842.1px;top:527.4px;width:101.7px;height:13.2px;line-height:14.2px">1.3</div>
<div class="c b" style="left:23px;top:542.1px;width:102.0px;height:13.8px;line-height:14.8px">8</div>
<div class="c b" style="left:126.9px;top:542.1px;width:196.7px;height:13.8px;line-height:14.8px;letter-spacing:0.15px;text-indent:0.15px">Unknown impurity 2</div>
<div class="c b" style="left:325.3px;top:542.1px;width:101.4px;height:13.8px;line-height:14.8px">75.258</div>
<div class="c b" style="left:428.3px;top:542.1px;width:101.9px;height:13.8px;line-height:14.8px;letter-spacing:-0.20px;text-indent:-0.20px">33417</div>
<div class="c b" style="left:531.9px;top:542.1px;width:101.7px;height:13.8px;line-height:14.8px">0.29</div>
<div class="c b" style="left:635.2px;top:542.1px;width:101.7px;height:13.8px;line-height:14.8px;letter-spacing:-0.20px;text-indent:-0.20px">849</div>
<div class="c b" style="left:738.5px;top:542.1px;width:102.0px;height:13.8px;line-height:14.8px">2.3</div>
<div class="c b" style="left:842.1px;top:542.1px;width:101.7px;height:13.8px;line-height:14.8px">0.9</div>
<div class="c a" style="left:23px;top:557.3px;width:102.0px;height:18.5px;line-height:21.7px">9</div>
<div class="c a" style="left:126.9px;top:557.3px;width:196.7px;height:18.5px;line-height:21.7px;letter-spacing:0.14px;text-indent:0.14px">Degradation Impurity 2</div>
<div class="c a" style="left:325.3px;top:557.3px;width:101.4px;height:18.5px;line-height:21.7px">77.007</div>
<div class="c a" style="left:428.3px;top:557.3px;width:101.9px;height:18.5px;line-height:21.7px;letter-spacing:-0.20px;text-indent:-0.20px">21300</div>
<div class="c a" style="left:531.9px;top:557.3px;width:101.7px;height:18.5px;line-height:21.7px">0.19</div>
<div class="c a" style="left:635.2px;top:557.3px;width:101.7px;height:18.5px;line-height:21.7px;letter-spacing:-0.20px;text-indent:-0.20px">669</div>
<div class="c a" style="left:738.5px;top:557.3px;width:102.0px;height:18.5px;line-height:21.7px">1.9</div>
<div class="c a" style="left:842.1px;top:557.3px;width:101.7px;height:18.5px;line-height:21.7px">1.0</div>
<div class="c b" style="left:23px;top:577.4px;width:102.0px;height:13.6px;line-height:16.2px">10</div>
<div class="c b" style="left:126.9px;top:577.4px;width:196.7px;height:13.6px;line-height:16.2px;letter-spacing:0.16px;text-indent:0.16px">Unknown impurity 3</div>
<div class="c b" style="left:325.3px;top:577.4px;width:101.4px;height:13.6px;line-height:16.2px">78.024</div>
<div class="c b" style="left:428.3px;top:577.4px;width:101.9px;height:13.6px;line-height:16.2px;letter-spacing:-0.20px;text-indent:-0.20px">19598</div>
<div class="c b" style="left:531.9px;top:577.4px;width:101.7px;height:13.6px;line-height:16.2px">0.17</div>
<div class="c b" style="left:635.2px;top:577.4px;width:101.7px;height:13.6px;line-height:16.2px;letter-spacing:-0.20px;text-indent:-0.20px">628</div>
<div class="c b" style="left:738.5px;top:577.4px;width:102.0px;height:13.6px;line-height:16.2px">1.2</div>
<div class="c b" style="left:842.1px;top:577.4px;width:101.7px;height:13.6px;line-height:16.2px">1.3</div>
<div class="c a" style="left:23px;top:592.6px;width:102.0px;height:13.5px;line-height:14.5px">11</div>
<div class="c a" style="left:126.9px;top:592.6px;width:196.7px;height:13.5px;line-height:14.5px;letter-spacing:-0.15px;text-indent:-0.15px">D-Phe(6) Semaglutide</div>
<div class="c a" style="left:325.3px;top:592.6px;width:101.4px;height:13.5px;line-height:14.5px">79.584</div>
<div class="c a" style="left:428.3px;top:592.6px;width:101.9px;height:13.5px;line-height:14.5px;letter-spacing:-0.20px;text-indent:-0.20px">65330</div>
<div class="c a" style="left:531.9px;top:592.6px;width:101.7px;height:13.5px;line-height:14.5px">0.57</div>
<div class="c a" style="left:635.2px;top:592.6px;width:101.7px;height:13.5px;line-height:14.5px;letter-spacing:-0.20px;text-indent:-0.20px">1936</div>
<div class="c a" style="left:738.5px;top:592.6px;width:102.0px;height:13.5px;line-height:14.5px">1.8</div>
<div class="c a" style="left:842.1px;top:592.6px;width:101.7px;height:13.5px;line-height:14.5px">1.1</div>
<div class="c b" style="left:23px;top:607.7px;width:102.0px;height:13.3px;line-height:14.3px">12</div>
<div class="c b" style="left:126.9px;top:607.7px;width:196.7px;height:13.3px;line-height:14.3px;letter-spacing:-0.05px;text-indent:-0.05px">Semaglutide</div>
<div class="c b" style="left:325.3px;top:607.7px;width:101.4px;height:13.3px;line-height:14.3px">81.030</div>
<div class="c b" style="left:428.3px;top:607.7px;width:101.9px;height:13.3px;line-height:14.3px;letter-spacing:-0.20px;text-indent:-0.20px">10623482</div>
<div class="c b" style="left:531.9px;top:607.7px;width:101.7px;height:13.3px;line-height:14.3px">93.32</div>
<div class="c b" style="left:635.2px;top:607.7px;width:101.7px;height:13.3px;line-height:14.3px;letter-spacing:-0.20px;text-indent:-0.20px">209534</div>
<div class="c b" style="left:738.5px;top:607.7px;width:102.0px;height:13.3px;line-height:14.3px">1.3</div>
<div class="c b" style="left:842.1px;top:607.7px;width:101.7px;height:13.3px;line-height:14.3px">2.5</div>
<div class="c a" style="left:23px;top:622.3px;width:102.0px;height:18.7px;line-height:22.7px">13</div>
<div class="c a" style="left:126.9px;top:622.3px;width:196.7px;height:18.7px;line-height:22.7px;letter-spacing:0.14px;text-indent:0.14px">Degradation Impurity 3</div>
<div class="c a" style="left:325.3px;top:622.3px;width:101.4px;height:18.7px;line-height:22.7px">85.580</div>
<div class="c a" style="left:428.3px;top:622.3px;width:101.9px;height:18.7px;line-height:22.7px;letter-spacing:-0.20px;text-indent:-0.20px">25188</div>
<div class="c a" style="left:531.9px;top:622.3px;width:101.7px;height:18.7px;line-height:22.7px">0.22</div>
<div class="c a" style="left:635.2px;top:622.3px;width:101.7px;height:18.7px;line-height:22.7px;letter-spacing:-0.20px;text-indent:-0.20px">608</div>
<div class="c a" style="left:738.5px;top:622.3px;width:102.0px;height:18.7px;line-height:22.7px">3.6</div>
<div class="c a" style="left:842.1px;top:622.3px;width:101.7px;height:18.7px;line-height:22.7px">1.1</div>
<div class="c b" style="left:23px;top:642.4px;width:102.0px;height:13.5px;line-height:16.1px">14</div>
<div class="c b" style="left:126.9px;top:642.4px;width:196.7px;height:13.5px;line-height:16.1px;letter-spacing:-0.11px;text-indent:-0.11px">D-His (1) Semaglutide</div>
<div class="c b" style="left:325.3px;top:642.4px;width:101.4px;height:13.5px;line-height:16.1px">87.214</div>
<div class="c b" style="left:428.3px;top:642.4px;width:101.9px;height:13.5px;line-height:16.1px;letter-spacing:-0.20px;text-indent:-0.20px">65980</div>
<div class="c b" style="left:531.9px;top:642.4px;width:101.7px;height:13.5px;line-height:16.1px">0.58</div>
<div class="c b" style="left:635.2px;top:642.4px;width:101.7px;height:13.5px;line-height:16.1px;letter-spacing:-0.20px;text-indent:-0.20px">1402</div>
<div class="c b" style="left:738.5px;top:642.4px;width:102.0px;height:13.5px;line-height:16.1px">1.4</div>
<div class="c b" style="left:842.1px;top:642.4px;width:101.7px;height:13.5px;line-height:16.1px">1.5</div>
<div class="c a" style="left:23px;top:657.5px;width:102.0px;height:13.3px;line-height:14.3px">15</div>
<div class="c a" style="left:126.9px;top:657.5px;width:196.7px;height:13.3px;line-height:14.3px;letter-spacing:-0.10px;text-indent:-0.10px">3-31 Semaglutide</div>
<div class="c a" style="left:325.3px;top:657.5px;width:101.4px;height:13.3px;line-height:14.3px">90.808</div>
<div class="c a" style="left:428.3px;top:657.5px;width:101.9px;height:13.3px;line-height:14.3px;letter-spacing:-0.20px;text-indent:-0.20px">68189</div>
<div class="c a" style="left:531.9px;top:657.5px;width:101.7px;height:13.3px;line-height:14.3px">0.60</div>
<div class="c a" style="left:635.2px;top:657.5px;width:101.7px;height:13.3px;line-height:14.3px;letter-spacing:-0.20px;text-indent:-0.20px">1518</div>
<div class="c a" style="left:738.5px;top:657.5px;width:102.0px;height:13.3px;line-height:14.3px">3.0</div>
<div class="c a" style="left:842.1px;top:657.5px;width:101.7px;height:13.3px;line-height:14.3px">1.0</div>
</div>
</body></html>
